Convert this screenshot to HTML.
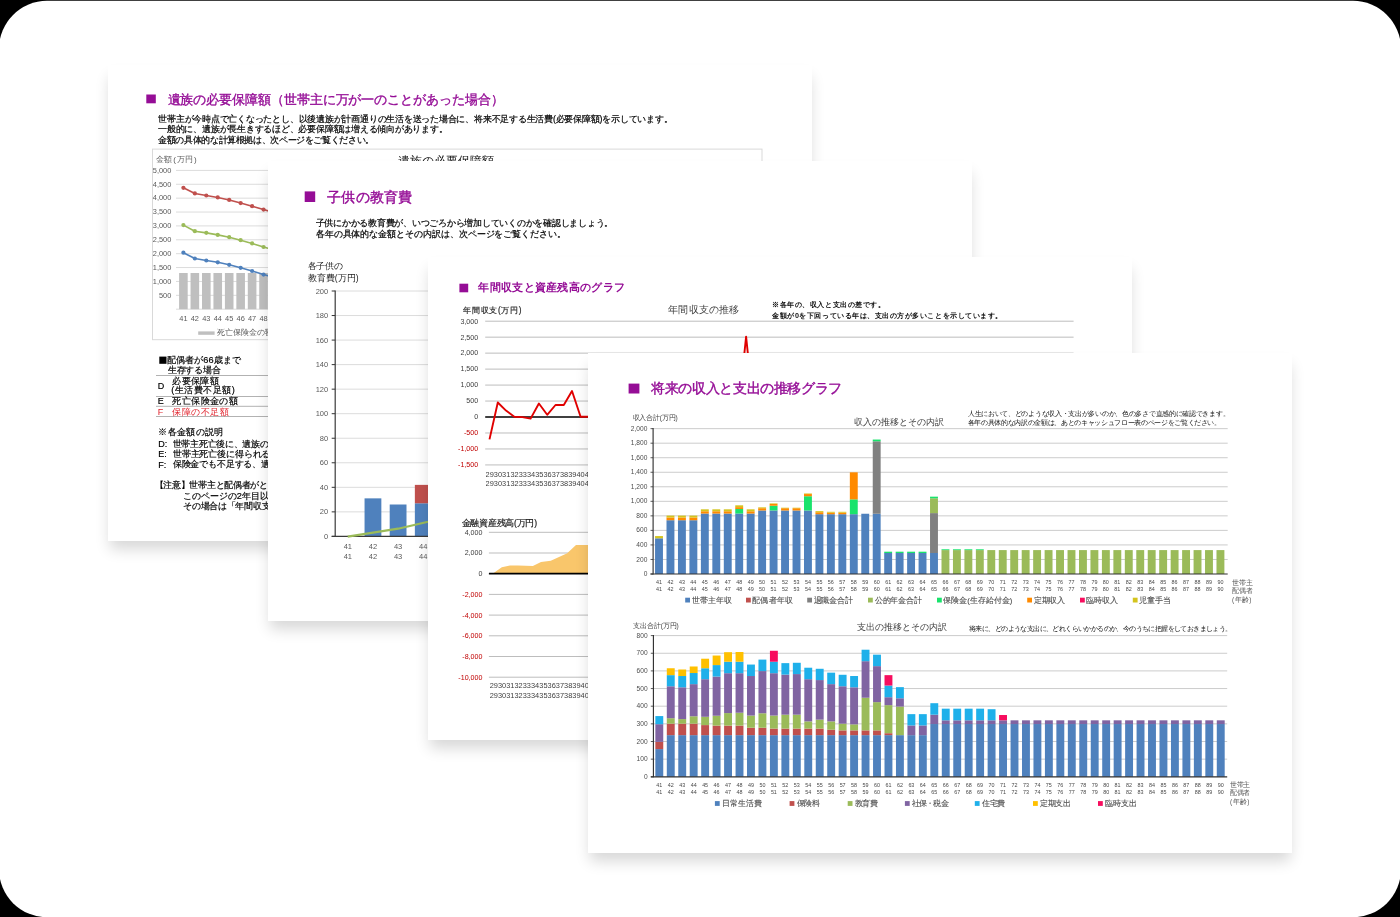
<!DOCTYPE html>
<html lang="ja">
<head>
<meta charset="utf-8">
<title>将来の収入と支出の推移グラフ</title>
<style>
html,body{margin:0;padding:0;background:#000;}
body{width:1400px;height:917px;position:relative;overflow:hidden;font-family:"Liberation Sans",sans-serif;}
.bg{position:absolute;left:0;top:0;display:block;}
.page{position:absolute;background:#fff;overflow:hidden;will-change:transform;}
.page svg{position:absolute;left:0;top:0;display:block;}
.sh{position:absolute;background:#fff;box-shadow:0 10px 14px -2px rgba(0,0,0,.16);}
.t{position:absolute;white-space:nowrap;margin:0;padding:0;}
.nw{overflow:hidden;}
</style>
</head>
<body>
<svg class="bg" width="1400" height="917" viewBox="0 0 1400 917"><rect x="-1" y="0.85" width="1402" height="916.35" rx="48" ry="48" fill="#ffffff"/></svg>
<div class="sh" style="left:108px;top:65px;width:704px;height:476px;z-index:1"></div>
<div class="page" style="left:108px;top:65px;width:704px;height:476px;z-index:1">
<svg width="704" height="476" viewBox="0 0 704 476">
<rect x="38.3" y="29.5" width="9.5" height="8.8" fill="#950d96"/>
<rect x="44.5" y="84.1" width="609.5" height="190.6" fill="#fff" stroke="#d9d9d9" stroke-width="1"/>
<line x1="68" y1="105.4" x2="649" y2="105.4" stroke="#dcdcdc" stroke-width="1"/>
<line x1="68" y1="119.28" x2="649" y2="119.28" stroke="#dcdcdc" stroke-width="1"/>
<line x1="68" y1="133.16" x2="649" y2="133.16" stroke="#dcdcdc" stroke-width="1"/>
<line x1="68" y1="147.04" x2="649" y2="147.04" stroke="#dcdcdc" stroke-width="1"/>
<line x1="68" y1="160.92" x2="649" y2="160.92" stroke="#dcdcdc" stroke-width="1"/>
<line x1="68" y1="174.8" x2="649" y2="174.8" stroke="#dcdcdc" stroke-width="1"/>
<line x1="68" y1="188.68" x2="649" y2="188.68" stroke="#dcdcdc" stroke-width="1"/>
<line x1="68" y1="202.56" x2="649" y2="202.56" stroke="#dcdcdc" stroke-width="1"/>
<line x1="68" y1="216.44" x2="649" y2="216.44" stroke="#dcdcdc" stroke-width="1"/>
<line x1="68" y1="230.32" x2="649" y2="230.32" stroke="#dcdcdc" stroke-width="1"/>
<line x1="68" y1="244.2" x2="649" y2="244.2" stroke="#dcdcdc" stroke-width="1"/>
<rect x="71.1" y="208.0" width="8.6" height="36.2" fill="#bfbfbf"/>
<rect x="82.55" y="208.0" width="8.6" height="36.2" fill="#bfbfbf"/>
<rect x="94.0" y="208.0" width="8.6" height="36.2" fill="#bfbfbf"/>
<rect x="105.45" y="208.0" width="8.6" height="36.2" fill="#bfbfbf"/>
<rect x="116.9" y="208.0" width="8.6" height="36.2" fill="#bfbfbf"/>
<rect x="128.35" y="208.0" width="8.6" height="36.2" fill="#bfbfbf"/>
<rect x="139.8" y="208.0" width="8.6" height="36.2" fill="#bfbfbf"/>
<rect x="151.25" y="208.0" width="8.6" height="36.2" fill="#bfbfbf"/>
<rect x="162.7" y="208.0" width="8.6" height="36.2" fill="#bfbfbf"/>
<rect x="174.15" y="208.0" width="8.6" height="36.2" fill="#bfbfbf"/>
<polyline points="75.4,122.81 86.85,128.44 98.3,130.52 109.75,132.47 121.2,134.96 132.65,138.1 144.1,141.15 155.55,144.6 167.0,147.87 178.45,151.2" fill="none" stroke="#c0504d" stroke-width="1.6" stroke-linejoin="round" />
<circle cx="75.4" cy="122.81" r="2.1" fill="#c0504d"/>
<circle cx="86.85" cy="128.44" r="2.1" fill="#c0504d"/>
<circle cx="98.3" cy="130.52" r="2.1" fill="#c0504d"/>
<circle cx="109.75" cy="132.47" r="2.1" fill="#c0504d"/>
<circle cx="121.2" cy="134.96" r="2.1" fill="#c0504d"/>
<circle cx="132.65" cy="138.1" r="2.1" fill="#c0504d"/>
<circle cx="144.1" cy="141.15" r="2.1" fill="#c0504d"/>
<circle cx="155.55" cy="144.6" r="2.1" fill="#c0504d"/>
<circle cx="167.0" cy="147.87" r="2.1" fill="#c0504d"/>
<circle cx="178.45" cy="151.2" r="2.1" fill="#c0504d"/>
<polyline points="75.4,160.09 86.85,166.19 98.3,167.86 109.75,169.89 121.2,172.19 132.65,175.19 144.1,178.41 155.55,182.02 167.0,185.35 178.45,188.68" fill="none" stroke="#9bbb59" stroke-width="1.6" stroke-linejoin="round" />
<circle cx="75.4" cy="160.09" r="2.1" fill="#9bbb59"/>
<circle cx="86.85" cy="166.19" r="2.1" fill="#9bbb59"/>
<circle cx="98.3" cy="167.86" r="2.1" fill="#9bbb59"/>
<circle cx="109.75" cy="169.89" r="2.1" fill="#9bbb59"/>
<circle cx="121.2" cy="172.19" r="2.1" fill="#9bbb59"/>
<circle cx="132.65" cy="175.19" r="2.1" fill="#9bbb59"/>
<circle cx="144.1" cy="178.41" r="2.1" fill="#9bbb59"/>
<circle cx="155.55" cy="182.02" r="2.1" fill="#9bbb59"/>
<circle cx="167.0" cy="185.35" r="2.1" fill="#9bbb59"/>
<circle cx="178.45" cy="188.68" r="2.1" fill="#9bbb59"/>
<polyline points="75.4,187.71 86.85,193.51 98.3,195.48 109.75,197.29 121.2,199.78 132.65,202.78 144.1,206.0 155.55,209.58 167.0,212.83 178.45,216.16" fill="none" stroke="#4f81bd" stroke-width="1.6" stroke-linejoin="round" />
<circle cx="75.4" cy="187.71" r="2.1" fill="#4f81bd"/>
<circle cx="86.85" cy="193.51" r="2.1" fill="#4f81bd"/>
<circle cx="98.3" cy="195.48" r="2.1" fill="#4f81bd"/>
<circle cx="109.75" cy="197.29" r="2.1" fill="#4f81bd"/>
<circle cx="121.2" cy="199.78" r="2.1" fill="#4f81bd"/>
<circle cx="132.65" cy="202.78" r="2.1" fill="#4f81bd"/>
<circle cx="144.1" cy="206.0" r="2.1" fill="#4f81bd"/>
<circle cx="155.55" cy="209.58" r="2.1" fill="#4f81bd"/>
<circle cx="167.0" cy="212.83" r="2.1" fill="#4f81bd"/>
<circle cx="178.45" cy="216.16" r="2.1" fill="#4f81bd"/>
<rect x="90.2" y="266.4" width="16.4" height="3.4" fill="#bfbfbf"/>
<rect x="51.3" y="291.6" width="7.2" height="7.2" fill="#000"/>
<line x1="48" y1="310.5" x2="592" y2="310.5" stroke="#b2b2b2" stroke-width="1"/>
<line x1="48" y1="331.5" x2="592" y2="331.5" stroke="#b2b2b2" stroke-width="1"/>
<line x1="48" y1="341.3" x2="592" y2="341.3" stroke="#b2b2b2" stroke-width="1"/>
<line x1="48" y1="351.5" x2="592" y2="351.5" stroke="#b2b2b2" stroke-width="1"/>
</svg>
<div class="t" style="top:26.5px;font-size:13px;line-height:15.6px;height:15.6px;color:#950d96;width:336.0px;text-align-last:justify;-webkit-text-stroke:0.35px #950d96;letter-spacing:-0.092px;left:59.5px;">遺族の必要保障額（世帯主に万が一のことがあった場合）</div>
<div class="t" style="top:48.92px;font-size:8.8px;line-height:10.56px;height:10.56px;color:#000;width:514.3px;text-align-last:justify;-webkit-text-stroke:0.2px #000;letter-spacing:-0.233px;left:50.2px;">世帯主が今時点で亡くなったとし、以後遺族が計画通りの生活を送った場合に、将来不足する生活費(必要保障額)を示しています。</div>
<div class="t" style="top:59.22px;font-size:8.8px;line-height:10.56px;height:10.56px;color:#000;width:289.3px;text-align-last:justify;-webkit-text-stroke:0.2px #000;letter-spacing:-0.245px;left:50.2px;">一般的に、遺族が長生きするほど、必要保障額は増える傾向があります。</div>
<div class="t" style="top:69.72px;font-size:8.8px;line-height:10.56px;height:10.56px;color:#000;width:215.6px;text-align-last:justify;-webkit-text-stroke:0.2px #000;letter-spacing:-0.392px;left:50.2px;">金額の具体的な計算根拠は、次ページをご覧ください。</div>
<div class="t" style="top:90.2px;font-size:8px;line-height:9.6px;height:9.6px;color:#595959;width:40.8px;text-align-last:justify;left:47.8px;">金額(万円)</div>
<div class="t" style="top:88.6px;font-size:12px;line-height:14.4px;height:14.4px;color:#111;width:96.3px;text-align-last:justify;letter-spacing:-0.012px;left:289.9px;">遺族の必要保障額</div>
<div class="t" style="top:101.66px;font-size:7.4px;line-height:8.88px;height:8.88px;color:#595959;right:640.7px;">5,000</div>
<div class="t" style="top:115.54px;font-size:7.4px;line-height:8.88px;height:8.88px;color:#595959;right:640.7px;">4,500</div>
<div class="t" style="top:129.42px;font-size:7.4px;line-height:8.88px;height:8.88px;color:#595959;right:640.7px;">4,000</div>
<div class="t" style="top:143.3px;font-size:7.4px;line-height:8.88px;height:8.88px;color:#595959;right:640.7px;">3,500</div>
<div class="t" style="top:157.18px;font-size:7.4px;line-height:8.88px;height:8.88px;color:#595959;right:640.7px;">3,000</div>
<div class="t" style="top:171.06px;font-size:7.4px;line-height:8.88px;height:8.88px;color:#595959;right:640.7px;">2,500</div>
<div class="t" style="top:184.94px;font-size:7.4px;line-height:8.88px;height:8.88px;color:#595959;right:640.7px;">2,000</div>
<div class="t" style="top:198.82px;font-size:7.4px;line-height:8.88px;height:8.88px;color:#595959;right:640.7px;">1,500</div>
<div class="t" style="top:212.7px;font-size:7.4px;line-height:8.88px;height:8.88px;color:#595959;right:640.7px;">1,000</div>
<div class="t" style="top:226.58px;font-size:7.4px;line-height:8.88px;height:8.88px;color:#595959;right:640.7px;">500</div>
<div class="t" style="top:249.56px;font-size:7.4px;line-height:8.88px;height:8.88px;color:#595959;left:75.4px;transform:translateX(-50%);">41</div>
<div class="t" style="top:249.56px;font-size:7.4px;line-height:8.88px;height:8.88px;color:#595959;left:86.85px;transform:translateX(-50%);">42</div>
<div class="t" style="top:249.56px;font-size:7.4px;line-height:8.88px;height:8.88px;color:#595959;left:98.3px;transform:translateX(-50%);">43</div>
<div class="t" style="top:249.56px;font-size:7.4px;line-height:8.88px;height:8.88px;color:#595959;left:109.75px;transform:translateX(-50%);">44</div>
<div class="t" style="top:249.56px;font-size:7.4px;line-height:8.88px;height:8.88px;color:#595959;left:121.2px;transform:translateX(-50%);">45</div>
<div class="t" style="top:249.56px;font-size:7.4px;line-height:8.88px;height:8.88px;color:#595959;left:132.65px;transform:translateX(-50%);">46</div>
<div class="t" style="top:249.56px;font-size:7.4px;line-height:8.88px;height:8.88px;color:#595959;left:144.1px;transform:translateX(-50%);">47</div>
<div class="t" style="top:249.56px;font-size:7.4px;line-height:8.88px;height:8.88px;color:#595959;left:155.55px;transform:translateX(-50%);">48</div>
<div class="t" style="top:249.56px;font-size:7.4px;line-height:8.88px;height:8.88px;color:#595959;left:167.0px;transform:translateX(-50%);">49</div>
<div class="t" style="top:263.4px;font-size:8px;line-height:9.6px;height:9.6px;color:#595959;left:108.6px;">死亡保険金の額</div>
<div class="t" style="top:289.68px;font-size:9.2px;line-height:11.04px;height:11.04px;color:#000;width:73.2px;text-align-last:justify;-webkit-text-stroke:0.18px #000;letter-spacing:-0.048px;left:59.3px;">配偶者が66歳まで</div>
<div class="t" style="top:299.88px;font-size:9.2px;line-height:11.04px;height:11.04px;color:#000;width:53.2px;text-align-last:justify;-webkit-text-stroke:0.18px #000;letter-spacing:-0.2px;left:59.7px;">生存する場合</div>
<div class="t" style="top:316.0px;font-size:9px;line-height:10.8px;height:10.8px;color:#000;-webkit-text-stroke:0.18px #000;left:49.7px;">D</div>
<div class="t" style="top:310.88px;font-size:9.2px;line-height:11.04px;height:11.04px;color:#000;width:46.6px;text-align-last:justify;-webkit-text-stroke:0.18px #000;left:64.3px;">必要保障額</div>
<div class="t" style="top:320.38px;font-size:9.2px;line-height:11.04px;height:11.04px;color:#000;width:63.7px;text-align-last:justify;-webkit-text-stroke:0.18px #000;left:63.2px;">(生活費不足額)</div>
<div class="t" style="top:331.4px;font-size:9px;line-height:10.8px;height:10.8px;color:#000;-webkit-text-stroke:0.18px #000;left:49.7px;">E</div>
<div class="t" style="top:331.22px;font-size:9.3px;line-height:11.16px;height:11.16px;color:#000;width:65.6px;text-align-last:justify;-webkit-text-stroke:0.18px #000;left:64.3px;">死亡保険金の額</div>
<div class="t" style="top:341.9px;font-size:9px;line-height:10.8px;height:10.8px;color:#e0202a;left:49.7px;">F</div>
<div class="t" style="top:341.72px;font-size:9.3px;line-height:11.16px;height:11.16px;color:#e0202a;width:56.7px;text-align-last:justify;left:64.3px;">保障の不足額</div>
<div class="t" style="top:362.38px;font-size:9.2px;line-height:11.04px;height:11.04px;color:#000;width:65.2px;text-align-last:justify;-webkit-text-stroke:0.18px #000;left:50.2px;">※各金額の説明</div>
<div class="t" style="top:373.7px;font-size:9px;line-height:10.8px;height:10.8px;color:#000;-webkit-text-stroke:0.18px #000;left:50.2px;">D:</div>
<div class="t" style="top:373.58px;font-size:9.2px;line-height:11.04px;height:11.04px;color:#000;width:95.5px;text-align-last:justify;-webkit-text-stroke:0.18px #000;letter-spacing:-0.355px;left:64.8px;">世帯主死亡後に、遺族の</div>
<div class="t" style="top:384.0px;font-size:9px;line-height:10.8px;height:10.8px;color:#000;-webkit-text-stroke:0.18px #000;left:50.2px;">E:</div>
<div class="t" style="top:383.88px;font-size:9.2px;line-height:11.04px;height:11.04px;color:#000;width:97.5px;text-align-last:justify;-webkit-text-stroke:0.18px #000;letter-spacing:-0.173px;left:64.8px;">世帯主死亡後に得られる</div>
<div class="t" style="top:394.6px;font-size:9px;line-height:10.8px;height:10.8px;color:#000;-webkit-text-stroke:0.18px #000;left:50.2px;">F:</div>
<div class="t" style="top:394.48px;font-size:9.2px;line-height:11.04px;height:11.04px;color:#000;width:97.0px;text-align-last:justify;-webkit-text-stroke:0.18px #000;letter-spacing:-0.218px;left:64.8px;">保険金でも不足する、遺</div>
<div class="t" style="top:415.48px;font-size:9.2px;line-height:11.04px;height:11.04px;color:#000;width:121.9px;text-align-last:justify;-webkit-text-stroke:0.18px #000;letter-spacing:-0.321px;left:46.6px;">【注意】世帯主と配偶者がとも</div>
<div class="t" style="top:425.78px;font-size:9.2px;line-height:11.04px;height:11.04px;color:#000;width:85.1px;text-align-last:justify;-webkit-text-stroke:0.18px #000;letter-spacing:-0.143px;left:75.3px;">このページの2年目以</div>
<div class="t" style="top:436.38px;font-size:9.2px;line-height:11.04px;height:11.04px;color:#000;width:86.9px;text-align-last:justify;-webkit-text-stroke:0.18px #000;letter-spacing:-0.35px;left:75.3px;">その場合は「年間収支</div>
</div>
<div class="sh" style="left:268px;top:161px;width:704px;height:460px;z-index:2"></div>
<div class="page" style="left:268px;top:161px;width:704px;height:460px;z-index:2">
<svg width="704" height="460" viewBox="0 0 704 460">
<rect x="36.7" y="30.4" width="10.5" height="10.6" fill="#950d96"/>
<line x1="63.7" y1="375.4" x2="67.2" y2="375.4" stroke="#333" stroke-width="1"/>
<line x1="67.2" y1="350.86" x2="672" y2="350.86" stroke="#dcdcdc" stroke-width="1"/>
<line x1="63.7" y1="350.86" x2="67.2" y2="350.86" stroke="#333" stroke-width="1"/>
<line x1="67.2" y1="326.32" x2="672" y2="326.32" stroke="#dcdcdc" stroke-width="1"/>
<line x1="63.7" y1="326.32" x2="67.2" y2="326.32" stroke="#333" stroke-width="1"/>
<line x1="67.2" y1="301.78" x2="672" y2="301.78" stroke="#dcdcdc" stroke-width="1"/>
<line x1="63.7" y1="301.78" x2="67.2" y2="301.78" stroke="#333" stroke-width="1"/>
<line x1="67.2" y1="277.24" x2="672" y2="277.24" stroke="#dcdcdc" stroke-width="1"/>
<line x1="63.7" y1="277.24" x2="67.2" y2="277.24" stroke="#333" stroke-width="1"/>
<line x1="67.2" y1="252.7" x2="672" y2="252.7" stroke="#dcdcdc" stroke-width="1"/>
<line x1="63.7" y1="252.7" x2="67.2" y2="252.7" stroke="#333" stroke-width="1"/>
<line x1="67.2" y1="228.16" x2="672" y2="228.16" stroke="#dcdcdc" stroke-width="1"/>
<line x1="63.7" y1="228.16" x2="67.2" y2="228.16" stroke="#333" stroke-width="1"/>
<line x1="67.2" y1="203.62" x2="672" y2="203.62" stroke="#dcdcdc" stroke-width="1"/>
<line x1="63.7" y1="203.62" x2="67.2" y2="203.62" stroke="#333" stroke-width="1"/>
<line x1="67.2" y1="179.08" x2="672" y2="179.08" stroke="#dcdcdc" stroke-width="1"/>
<line x1="63.7" y1="179.08" x2="67.2" y2="179.08" stroke="#333" stroke-width="1"/>
<line x1="67.2" y1="154.54" x2="672" y2="154.54" stroke="#dcdcdc" stroke-width="1"/>
<line x1="63.7" y1="154.54" x2="67.2" y2="154.54" stroke="#333" stroke-width="1"/>
<line x1="67.2" y1="130.0" x2="672" y2="130.0" stroke="#dcdcdc" stroke-width="1"/>
<line x1="63.7" y1="130.0" x2="67.2" y2="130.0" stroke="#333" stroke-width="1"/>
<rect x="96.55" y="337.36" width="16.8" height="38.04" fill="#4f81bd"/>
<rect x="121.7" y="343.5" width="16.8" height="31.9" fill="#4f81bd"/>
<rect x="146.85" y="342.27" width="16.8" height="33.13" fill="#4f81bd"/>
<rect x="146.85" y="323.87" width="16.8" height="18.4" fill="#c0504d"/>
<rect x="172.0" y="338.59" width="16.8" height="36.81" fill="#4f81bd"/>
<rect x="172.0" y="314.05" width="16.8" height="24.54" fill="#c0504d"/>
<rect x="197.15" y="332.45" width="16.8" height="42.94" fill="#4f81bd"/>
<rect x="197.15" y="295.64" width="16.8" height="36.81" fill="#c0504d"/>
<line x1="67.2" y1="129.5" x2="67.2" y2="376.0" stroke="#3a3a3a" stroke-width="1.2"/>
<line x1="63.7" y1="375.4" x2="672" y2="375.4" stroke="#3a3a3a" stroke-width="1.3"/>
<polyline points="79.7,375.6 105,371.6 130.1,367.7 160,360.8 182,354" fill="none" stroke="#9bbb59" stroke-width="2.2" stroke-linejoin="round" />
</svg>
<div class="t" style="top:27.6px;font-size:14.0px;line-height:16.8px;height:16.8px;color:#950d96;width:85.0px;text-align-last:justify;-webkit-text-stroke:0.4px #950d96;left:59.2px;">子供の教育費</div>
<div class="t" style="top:57.25px;font-size:8.75px;line-height:10.5px;height:10.5px;color:#000;width:297.3px;text-align-last:justify;-webkit-text-stroke:0.2px #000;letter-spacing:-0.268px;left:47.7px;">子供にかかる教育費が、いつごろから増加していくのかを確認しましょう。</div>
<div class="t" style="top:68.16px;font-size:8.9px;line-height:10.68px;height:10.68px;color:#000;width:250.3px;text-align-last:justify;-webkit-text-stroke:0.2px #000;letter-spacing:-0.075px;left:47.7px;">各年の具体的な金額とその内訳は、次ページをご覧ください。</div>
<div class="t" style="top:99.84px;font-size:8.6px;line-height:10.32px;height:10.32px;color:#222;width:34.3px;text-align-last:justify;letter-spacing:-0.525px;left:39.7px;">各子供の</div>
<div class="t" style="top:111.84px;font-size:8.6px;line-height:10.32px;height:10.32px;color:#222;width:50.9px;text-align-last:justify;letter-spacing:-0.033px;left:39.7px;">教育費(万円)</div>
<div class="t" style="top:370.9px;font-size:7.5px;line-height:9.0px;height:9.0px;color:#595959;right:643.8px;">0</div>
<div class="t" style="top:346.36px;font-size:7.5px;line-height:9.0px;height:9.0px;color:#595959;right:643.8px;">20</div>
<div class="t" style="top:321.82px;font-size:7.5px;line-height:9.0px;height:9.0px;color:#595959;right:643.8px;">40</div>
<div class="t" style="top:297.28px;font-size:7.5px;line-height:9.0px;height:9.0px;color:#595959;right:643.8px;">60</div>
<div class="t" style="top:272.74px;font-size:7.5px;line-height:9.0px;height:9.0px;color:#595959;right:643.8px;">80</div>
<div class="t" style="top:248.2px;font-size:7.5px;line-height:9.0px;height:9.0px;color:#595959;right:643.8px;">100</div>
<div class="t" style="top:223.66px;font-size:7.5px;line-height:9.0px;height:9.0px;color:#595959;right:643.8px;">120</div>
<div class="t" style="top:199.12px;font-size:7.5px;line-height:9.0px;height:9.0px;color:#595959;right:643.8px;">140</div>
<div class="t" style="top:174.58px;font-size:7.5px;line-height:9.0px;height:9.0px;color:#595959;right:643.8px;">160</div>
<div class="t" style="top:150.04px;font-size:7.5px;line-height:9.0px;height:9.0px;color:#595959;right:643.8px;">180</div>
<div class="t" style="top:125.5px;font-size:7.5px;line-height:9.0px;height:9.0px;color:#595959;right:643.8px;">200</div>
<div class="t" style="top:381.3px;font-size:7.5px;line-height:9.0px;height:9.0px;color:#595959;left:79.8px;transform:translateX(-50%);">41</div>
<div class="t" style="top:390.9px;font-size:7.5px;line-height:9.0px;height:9.0px;color:#595959;left:79.8px;transform:translateX(-50%);">41</div>
<div class="t" style="top:381.3px;font-size:7.5px;line-height:9.0px;height:9.0px;color:#595959;left:104.95px;transform:translateX(-50%);">42</div>
<div class="t" style="top:390.9px;font-size:7.5px;line-height:9.0px;height:9.0px;color:#595959;left:104.95px;transform:translateX(-50%);">42</div>
<div class="t" style="top:381.3px;font-size:7.5px;line-height:9.0px;height:9.0px;color:#595959;left:130.1px;transform:translateX(-50%);">43</div>
<div class="t" style="top:390.9px;font-size:7.5px;line-height:9.0px;height:9.0px;color:#595959;left:130.1px;transform:translateX(-50%);">43</div>
<div class="t" style="top:381.3px;font-size:7.5px;line-height:9.0px;height:9.0px;color:#595959;left:155.25px;transform:translateX(-50%);">44</div>
<div class="t" style="top:390.9px;font-size:7.5px;line-height:9.0px;height:9.0px;color:#595959;left:155.25px;transform:translateX(-50%);">44</div>
<div class="t" style="top:381.3px;font-size:7.5px;line-height:9.0px;height:9.0px;color:#595959;left:180.4px;transform:translateX(-50%);">45</div>
<div class="t" style="top:390.9px;font-size:7.5px;line-height:9.0px;height:9.0px;color:#595959;left:180.4px;transform:translateX(-50%);">45</div>
</div>
<div class="sh" style="left:428px;top:257px;width:704px;height:483px;z-index:3"></div>
<div class="page" style="left:428px;top:257px;width:704px;height:483px;z-index:3">
<svg width="704" height="483" viewBox="0 0 704 483">
<rect x="31.4" y="26.7" width="8.8" height="8.6" fill="#950d96"/>
<line x1="57.2" y1="64.2" x2="645.6" y2="64.2" stroke="#bdbdbd" stroke-width="1"/>
<line x1="57.2" y1="80.17" x2="645.6" y2="80.17" stroke="#bdbdbd" stroke-width="1"/>
<line x1="57.2" y1="96.14" x2="645.6" y2="96.14" stroke="#bdbdbd" stroke-width="1"/>
<line x1="57.2" y1="112.11" x2="645.6" y2="112.11" stroke="#bdbdbd" stroke-width="1"/>
<line x1="57.2" y1="128.08" x2="645.6" y2="128.08" stroke="#bdbdbd" stroke-width="1"/>
<line x1="57.2" y1="144.05" x2="645.6" y2="144.05" stroke="#bdbdbd" stroke-width="1"/>
<line x1="57.2" y1="175.99" x2="645.6" y2="175.99" stroke="#bdbdbd" stroke-width="1"/>
<line x1="57.2" y1="191.96" x2="645.6" y2="191.96" stroke="#bdbdbd" stroke-width="1"/>
<line x1="57.2" y1="207.93" x2="645.6" y2="207.93" stroke="#bdbdbd" stroke-width="1"/>
<line x1="57.2" y1="160.02" x2="645.6" y2="160.02" stroke="#000" stroke-width="1.7"/>
<polyline points="61.5,182.4 69.8,145.5 78,153.6 86.3,159.8 94.4,160.1 102.6,161.6 110.9,146.5 119.2,157.8 127.5,148 135.8,148 144,134 152.6,159.8 162,159.8 309.8,159.8 318.1,79.6 326.4,159.8 642,159.8" fill="none" stroke="#e00000" stroke-width="1.9" stroke-linejoin="round" />
<line x1="60.9" y1="275.3" x2="645.6" y2="275.3" stroke="#bdbdbd" stroke-width="1"/>
<line x1="60.9" y1="296.0" x2="645.6" y2="296.0" stroke="#bdbdbd" stroke-width="1"/>
<line x1="60.9" y1="337.4" x2="645.6" y2="337.4" stroke="#bdbdbd" stroke-width="1"/>
<line x1="60.9" y1="358.1" x2="645.6" y2="358.1" stroke="#bdbdbd" stroke-width="1"/>
<line x1="60.9" y1="378.8" x2="645.6" y2="378.8" stroke="#bdbdbd" stroke-width="1"/>
<line x1="60.9" y1="399.5" x2="645.6" y2="399.5" stroke="#bdbdbd" stroke-width="1"/>
<line x1="60.9" y1="420.2" x2="645.6" y2="420.2" stroke="#bdbdbd" stroke-width="1"/>
<polygon points="64.6,316.7 73.8,310.3 82,308.4 90,308.4 104.9,309 113,305 122.8,303.8 139.2,296.2 148,288 172,288 172,316.7" fill="#f9c66b"/>
<line x1="60.9" y1="316.7" x2="645.6" y2="316.7" stroke="#000" stroke-width="1.7"/>
</svg>
<div class="t" style="top:24.22px;font-size:11.3px;line-height:13.56px;height:13.56px;color:#950d96;width:146.7px;text-align-last:justify;font-weight:bold;left:50.3px;">年間収支と資産残高のグラフ</div>
<div class="t" style="top:49.28px;font-size:8.2px;line-height:9.84px;height:9.84px;color:#2b2b2b;width:58.4px;text-align-last:justify;-webkit-text-stroke:0.2px #2b2b2b;left:35.2px;">年間収支(万円)</div>
<div class="t" style="top:47.44px;font-size:10.1px;line-height:12.12px;height:12.12px;color:#404040;width:70.6px;text-align-last:justify;left:240.4px;">年間収支の推移</div>
<div class="t" style="top:44.38px;font-size:7.2px;line-height:8.64px;height:8.64px;color:#111;width:112.4px;text-align-last:justify;font-weight:bold;left:344.3px;">※各年の、収入と支出の差です。</div>
<div class="t" style="top:54.68px;font-size:7.2px;line-height:8.64px;height:8.64px;color:#111;width:230.0px;text-align-last:justify;font-weight:bold;left:344.3px;">金額が0を下回っている年は、支出の方が多いことを示しています。</div>
<div class="t" style="top:60.54px;font-size:7.1px;line-height:8.52px;height:8.52px;color:#404040;right:653.8px;">3,000</div>
<div class="t" style="top:76.51px;font-size:7.1px;line-height:8.52px;height:8.52px;color:#404040;right:653.8px;">2,500</div>
<div class="t" style="top:92.48px;font-size:7.1px;line-height:8.52px;height:8.52px;color:#404040;right:653.8px;">2,000</div>
<div class="t" style="top:108.45px;font-size:7.1px;line-height:8.52px;height:8.52px;color:#404040;right:653.8px;">1,500</div>
<div class="t" style="top:124.42px;font-size:7.1px;line-height:8.52px;height:8.52px;color:#404040;right:653.8px;">1,000</div>
<div class="t" style="top:140.39px;font-size:7.1px;line-height:8.52px;height:8.52px;color:#404040;right:653.8px;">500</div>
<div class="t" style="top:156.36px;font-size:7.1px;line-height:8.52px;height:8.52px;color:#404040;right:653.8px;">0</div>
<div class="t" style="top:172.33px;font-size:7.1px;line-height:8.52px;height:8.52px;color:#c00000;right:653.8px;">-500</div>
<div class="t" style="top:188.3px;font-size:7.1px;line-height:8.52px;height:8.52px;color:#c00000;right:653.8px;">-1,000</div>
<div class="t" style="top:204.27px;font-size:7.1px;line-height:8.52px;height:8.52px;color:#c00000;right:653.8px;">-1,500</div>
<div class="t nw" style="top:213.56px;font-size:7.4px;line-height:8.88px;height:8.88px;color:#404040;letter-spacing:0.02px;left:57.6px;">2930313233343536373839404142</div>
<div class="t nw" style="top:223.06px;font-size:7.4px;line-height:8.88px;height:8.88px;color:#404040;letter-spacing:0.02px;left:57.6px;">2930313233343536373839404142</div>
<div class="t" style="top:260.94px;font-size:8.6px;line-height:10.32px;height:10.32px;color:#222;width:75.3px;text-align-last:justify;-webkit-text-stroke:0.2px #222;letter-spacing:-0.283px;left:33.5px;">金融資産残高(万円)</div>
<div class="t" style="top:271.74px;font-size:7.1px;line-height:8.52px;height:8.52px;color:#404040;right:649.6px;">4,000</div>
<div class="t" style="top:292.44px;font-size:7.1px;line-height:8.52px;height:8.52px;color:#404040;right:649.6px;">2,000</div>
<div class="t" style="top:313.14px;font-size:7.1px;line-height:8.52px;height:8.52px;color:#404040;right:649.6px;">0</div>
<div class="t" style="top:333.84px;font-size:7.1px;line-height:8.52px;height:8.52px;color:#c00000;right:649.6px;">-2,000</div>
<div class="t" style="top:354.54px;font-size:7.1px;line-height:8.52px;height:8.52px;color:#c00000;right:649.6px;">-4,000</div>
<div class="t" style="top:375.24px;font-size:7.1px;line-height:8.52px;height:8.52px;color:#c00000;right:649.6px;">-6,000</div>
<div class="t" style="top:395.94px;font-size:7.1px;line-height:8.52px;height:8.52px;color:#c00000;right:649.6px;">-8,000</div>
<div class="t" style="top:416.64px;font-size:7.1px;line-height:8.52px;height:8.52px;color:#c00000;right:649.6px;">-10,000</div>
<div class="t nw" style="top:425.26px;font-size:7.4px;line-height:8.88px;height:8.88px;color:#404040;letter-spacing:0.02px;left:61.7px;">2930313233343536373839404142</div>
<div class="t nw" style="top:434.76px;font-size:7.4px;line-height:8.88px;height:8.88px;color:#404040;letter-spacing:0.02px;left:61.7px;">2930313233343536373839404142</div>
</div>
<div class="sh" style="left:588px;top:352.5px;width:704px;height:500.0px;z-index:4"></div>
<div class="page" style="left:588px;top:352.5px;width:704px;height:500.0px;z-index:4">
<svg width="704" height="500.0" viewBox="0 0 704 500.0">
<rect x="40.6" y="30.6" width="10.8" height="9.9" fill="#950d96"/>
<line x1="62.5" y1="221.0" x2="65.0" y2="221.0" stroke="#333" stroke-width="0.8"/>
<line x1="65.0" y1="206.47" x2="639.7" y2="206.47" stroke="#cccccc" stroke-width="1"/>
<line x1="62.5" y1="206.47" x2="65.0" y2="206.47" stroke="#333" stroke-width="0.8"/>
<line x1="65.0" y1="191.93" x2="639.7" y2="191.93" stroke="#cccccc" stroke-width="1"/>
<line x1="62.5" y1="191.93" x2="65.0" y2="191.93" stroke="#333" stroke-width="0.8"/>
<line x1="65.0" y1="177.39" x2="639.7" y2="177.39" stroke="#cccccc" stroke-width="1"/>
<line x1="62.5" y1="177.39" x2="65.0" y2="177.39" stroke="#333" stroke-width="0.8"/>
<line x1="65.0" y1="162.86" x2="639.7" y2="162.86" stroke="#cccccc" stroke-width="1"/>
<line x1="62.5" y1="162.86" x2="65.0" y2="162.86" stroke="#333" stroke-width="0.8"/>
<line x1="65.0" y1="148.32" x2="639.7" y2="148.32" stroke="#cccccc" stroke-width="1"/>
<line x1="62.5" y1="148.32" x2="65.0" y2="148.32" stroke="#333" stroke-width="0.8"/>
<line x1="65.0" y1="133.79" x2="639.7" y2="133.79" stroke="#cccccc" stroke-width="1"/>
<line x1="62.5" y1="133.79" x2="65.0" y2="133.79" stroke="#333" stroke-width="0.8"/>
<line x1="65.0" y1="119.25" x2="639.7" y2="119.25" stroke="#cccccc" stroke-width="1"/>
<line x1="62.5" y1="119.25" x2="65.0" y2="119.25" stroke="#333" stroke-width="0.8"/>
<line x1="65.0" y1="104.72" x2="639.7" y2="104.72" stroke="#cccccc" stroke-width="1"/>
<line x1="62.5" y1="104.72" x2="65.0" y2="104.72" stroke="#333" stroke-width="0.8"/>
<line x1="65.0" y1="90.19" x2="639.7" y2="90.19" stroke="#cccccc" stroke-width="1"/>
<line x1="62.5" y1="90.19" x2="65.0" y2="90.19" stroke="#333" stroke-width="0.8"/>
<line x1="65.0" y1="75.65" x2="639.7" y2="75.65" stroke="#cccccc" stroke-width="1"/>
<line x1="62.5" y1="75.65" x2="65.0" y2="75.65" stroke="#333" stroke-width="0.8"/>
<rect x="67.05" y="185.32" width="7.9" height="35.68" fill="#4f81bd"/>
<rect x="67.05" y="183.06" width="7.9" height="2.25" fill="#d4c41e"/>
<rect x="78.51" y="167.22" width="7.9" height="53.78" fill="#4f81bd"/>
<rect x="78.51" y="164.53" width="7.9" height="2.69" fill="#ff8a00"/>
<rect x="78.51" y="162.57" width="7.9" height="1.96" fill="#d4c41e"/>
<rect x="89.97" y="167.22" width="7.9" height="53.78" fill="#4f81bd"/>
<rect x="89.97" y="164.53" width="7.9" height="2.69" fill="#ff8a00"/>
<rect x="89.97" y="162.57" width="7.9" height="1.96" fill="#d4c41e"/>
<rect x="101.42" y="167.22" width="7.9" height="53.78" fill="#4f81bd"/>
<rect x="101.42" y="164.53" width="7.9" height="2.69" fill="#ff8a00"/>
<rect x="101.42" y="162.57" width="7.9" height="1.96" fill="#d4c41e"/>
<rect x="112.88" y="160.53" width="7.9" height="60.47" fill="#4f81bd"/>
<rect x="112.88" y="158.28" width="7.9" height="2.25" fill="#ff8a00"/>
<rect x="112.88" y="156.32" width="7.9" height="1.96" fill="#d4c41e"/>
<rect x="124.34" y="160.53" width="7.9" height="60.47" fill="#4f81bd"/>
<rect x="124.34" y="158.28" width="7.9" height="2.25" fill="#ff8a00"/>
<rect x="124.34" y="156.32" width="7.9" height="1.96" fill="#d4c41e"/>
<rect x="135.8" y="160.53" width="7.9" height="60.47" fill="#4f81bd"/>
<rect x="135.8" y="158.28" width="7.9" height="2.25" fill="#ff8a00"/>
<rect x="135.8" y="156.32" width="7.9" height="1.96" fill="#d4c41e"/>
<rect x="147.26" y="160.53" width="7.9" height="60.47" fill="#4f81bd"/>
<rect x="147.26" y="156.03" width="7.9" height="4.51" fill="#19e36c"/>
<rect x="147.26" y="154.14" width="7.9" height="1.89" fill="#ff8a00"/>
<rect x="147.26" y="152.32" width="7.9" height="1.82" fill="#d4c41e"/>
<rect x="158.71" y="160.53" width="7.9" height="60.47" fill="#4f81bd"/>
<rect x="158.71" y="158.28" width="7.9" height="2.25" fill="#ff8a00"/>
<rect x="158.71" y="156.32" width="7.9" height="1.96" fill="#d4c41e"/>
<rect x="170.17" y="157.48" width="7.9" height="63.52" fill="#4f81bd"/>
<rect x="170.17" y="155.23" width="7.9" height="2.25" fill="#ff8a00"/>
<rect x="170.17" y="154.36" width="7.9" height="0.87" fill="#d4c41e"/>
<rect x="181.63" y="157.48" width="7.9" height="63.52" fill="#4f81bd"/>
<rect x="181.63" y="152.76" width="7.9" height="4.72" fill="#19e36c"/>
<rect x="181.63" y="150.87" width="7.9" height="1.89" fill="#ff8a00"/>
<rect x="181.63" y="150.36" width="7.9" height="0.51" fill="#d4c41e"/>
<rect x="193.09" y="157.48" width="7.9" height="63.52" fill="#4f81bd"/>
<rect x="193.09" y="155.23" width="7.9" height="2.25" fill="#ff8a00"/>
<rect x="193.09" y="154.72" width="7.9" height="0.51" fill="#d4c41e"/>
<rect x="204.55" y="157.48" width="7.9" height="63.52" fill="#4f81bd"/>
<rect x="204.55" y="155.23" width="7.9" height="2.25" fill="#ff8a00"/>
<rect x="204.55" y="154.72" width="7.9" height="0.51" fill="#d4c41e"/>
<rect x="216.0" y="157.48" width="7.9" height="63.52" fill="#4f81bd"/>
<rect x="216.0" y="143.24" width="7.9" height="14.24" fill="#19e36c"/>
<rect x="216.0" y="141.06" width="7.9" height="2.18" fill="#ff8a00"/>
<rect x="216.0" y="140.48" width="7.9" height="0.58" fill="#d4c41e"/>
<rect x="227.46" y="161.19" width="7.9" height="59.81" fill="#4f81bd"/>
<rect x="227.46" y="159.23" width="7.9" height="1.96" fill="#ff8a00"/>
<rect x="227.46" y="158.14" width="7.9" height="1.09" fill="#d4c41e"/>
<rect x="238.92" y="161.19" width="7.9" height="59.81" fill="#4f81bd"/>
<rect x="238.92" y="159.66" width="7.9" height="1.53" fill="#ff8a00"/>
<rect x="238.92" y="158.79" width="7.9" height="0.87" fill="#d4c41e"/>
<rect x="250.38" y="161.19" width="7.9" height="59.81" fill="#4f81bd"/>
<rect x="250.38" y="159.66" width="7.9" height="1.53" fill="#ff8a00"/>
<rect x="250.38" y="158.79" width="7.9" height="0.87" fill="#d4c41e"/>
<rect x="261.84" y="161.19" width="7.9" height="59.81" fill="#4f81bd"/>
<rect x="261.84" y="146.36" width="7.9" height="14.83" fill="#19e36c"/>
<rect x="261.84" y="119.33" width="7.9" height="27.04" fill="#ff8a00"/>
<rect x="273.29" y="160.75" width="7.9" height="60.25" fill="#4f81bd"/>
<rect x="284.75" y="160.75" width="7.9" height="60.25" fill="#4f81bd"/>
<rect x="284.75" y="88.3" width="7.9" height="72.46" fill="#808080"/>
<rect x="284.75" y="86.55" width="7.9" height="1.74" fill="#19e36c"/>
<rect x="296.21" y="200.0" width="7.9" height="21.0" fill="#4f81bd"/>
<rect x="296.21" y="198.69" width="7.9" height="1.31" fill="#19e36c"/>
<rect x="307.67" y="200.0" width="7.9" height="21.0" fill="#4f81bd"/>
<rect x="307.67" y="198.69" width="7.9" height="1.31" fill="#19e36c"/>
<rect x="319.13" y="200.0" width="7.9" height="21.0" fill="#4f81bd"/>
<rect x="319.13" y="198.69" width="7.9" height="1.31" fill="#19e36c"/>
<rect x="330.58" y="200.0" width="7.9" height="21.0" fill="#4f81bd"/>
<rect x="330.58" y="198.69" width="7.9" height="1.31" fill="#19e36c"/>
<rect x="342.04" y="200.0" width="7.9" height="21.0" fill="#4f81bd"/>
<rect x="342.04" y="160.1" width="7.9" height="39.9" fill="#808080"/>
<rect x="342.04" y="145.27" width="7.9" height="14.83" fill="#9bbb59"/>
<rect x="342.04" y="143.67" width="7.9" height="1.6" fill="#19e36c"/>
<rect x="353.5" y="197.09" width="7.9" height="23.91" fill="#9bbb59"/>
<rect x="353.5" y="196.29" width="7.9" height="0.8" fill="#19e36c"/>
<rect x="364.96" y="197.09" width="7.9" height="23.91" fill="#9bbb59"/>
<rect x="364.96" y="196.29" width="7.9" height="0.8" fill="#19e36c"/>
<rect x="376.42" y="197.09" width="7.9" height="23.91" fill="#9bbb59"/>
<rect x="376.42" y="196.29" width="7.9" height="0.8" fill="#19e36c"/>
<rect x="387.87" y="197.09" width="7.9" height="23.91" fill="#9bbb59"/>
<rect x="387.87" y="196.29" width="7.9" height="0.8" fill="#19e36c"/>
<rect x="399.33" y="197.09" width="7.9" height="23.91" fill="#9bbb59"/>
<rect x="410.79" y="197.09" width="7.9" height="23.91" fill="#9bbb59"/>
<rect x="422.25" y="197.09" width="7.9" height="23.91" fill="#9bbb59"/>
<rect x="433.71" y="197.09" width="7.9" height="23.91" fill="#9bbb59"/>
<rect x="445.16" y="197.09" width="7.9" height="23.91" fill="#9bbb59"/>
<rect x="456.62" y="197.09" width="7.9" height="23.91" fill="#9bbb59"/>
<rect x="468.08" y="197.09" width="7.9" height="23.91" fill="#9bbb59"/>
<rect x="479.54" y="197.09" width="7.9" height="23.91" fill="#9bbb59"/>
<rect x="491.0" y="197.09" width="7.9" height="23.91" fill="#9bbb59"/>
<rect x="502.45" y="197.09" width="7.9" height="23.91" fill="#9bbb59"/>
<rect x="513.91" y="197.09" width="7.9" height="23.91" fill="#9bbb59"/>
<rect x="525.37" y="197.09" width="7.9" height="23.91" fill="#9bbb59"/>
<rect x="536.83" y="197.09" width="7.9" height="23.91" fill="#9bbb59"/>
<rect x="548.29" y="197.09" width="7.9" height="23.91" fill="#9bbb59"/>
<rect x="559.74" y="197.09" width="7.9" height="23.91" fill="#9bbb59"/>
<rect x="571.2" y="197.09" width="7.9" height="23.91" fill="#9bbb59"/>
<rect x="582.66" y="197.09" width="7.9" height="23.91" fill="#9bbb59"/>
<rect x="594.12" y="197.09" width="7.9" height="23.91" fill="#9bbb59"/>
<rect x="605.58" y="197.09" width="7.9" height="23.91" fill="#9bbb59"/>
<rect x="617.03" y="197.09" width="7.9" height="23.91" fill="#9bbb59"/>
<rect x="628.49" y="197.09" width="7.9" height="23.91" fill="#9bbb59"/>
<line x1="65.1" y1="75.1" x2="65.1" y2="221.5" stroke="#2a2a2a" stroke-width="1.1"/>
<line x1="62.5" y1="221.0" x2="639.7" y2="221.0" stroke="#303030" stroke-width="1.2"/>
<rect x="97.2" y="244.7" width="4.8" height="4.8" fill="#4f81bd"/>
<rect x="158.0" y="244.7" width="4.8" height="4.8" fill="#c0504d"/>
<rect x="219.2" y="244.7" width="4.8" height="4.8" fill="#808080"/>
<rect x="280.0" y="244.7" width="4.8" height="4.8" fill="#9bbb59"/>
<rect x="349.0" y="244.7" width="4.8" height="4.8" fill="#19e36c"/>
<rect x="439.2" y="244.7" width="4.8" height="4.8" fill="#ff8a00"/>
<rect x="492.0" y="244.7" width="4.8" height="4.8" fill="#f70d5e"/>
<rect x="544.8" y="244.7" width="4.8" height="4.8" fill="#d4c41e"/>
<line x1="62.8" y1="423.8" x2="65.3" y2="423.8" stroke="#333" stroke-width="0.8"/>
<line x1="65.3" y1="406.15" x2="639.2" y2="406.15" stroke="#cccccc" stroke-width="1"/>
<line x1="62.8" y1="406.15" x2="65.3" y2="406.15" stroke="#333" stroke-width="0.8"/>
<line x1="65.3" y1="388.5" x2="639.2" y2="388.5" stroke="#cccccc" stroke-width="1"/>
<line x1="62.8" y1="388.5" x2="65.3" y2="388.5" stroke="#333" stroke-width="0.8"/>
<line x1="65.3" y1="370.85" x2="639.2" y2="370.85" stroke="#cccccc" stroke-width="1"/>
<line x1="62.8" y1="370.85" x2="65.3" y2="370.85" stroke="#333" stroke-width="0.8"/>
<line x1="65.3" y1="353.2" x2="639.2" y2="353.2" stroke="#cccccc" stroke-width="1"/>
<line x1="62.8" y1="353.2" x2="65.3" y2="353.2" stroke="#333" stroke-width="0.8"/>
<line x1="65.3" y1="335.55" x2="639.2" y2="335.55" stroke="#cccccc" stroke-width="1"/>
<line x1="62.8" y1="335.55" x2="65.3" y2="335.55" stroke="#333" stroke-width="0.8"/>
<line x1="65.3" y1="317.9" x2="639.2" y2="317.9" stroke="#cccccc" stroke-width="1"/>
<line x1="62.8" y1="317.9" x2="65.3" y2="317.9" stroke="#333" stroke-width="0.8"/>
<line x1="65.3" y1="300.25" x2="639.2" y2="300.25" stroke="#cccccc" stroke-width="1"/>
<line x1="62.8" y1="300.25" x2="65.3" y2="300.25" stroke="#333" stroke-width="0.8"/>
<line x1="65.3" y1="282.6" x2="639.2" y2="282.6" stroke="#cccccc" stroke-width="1"/>
<line x1="62.8" y1="282.6" x2="65.3" y2="282.6" stroke="#333" stroke-width="0.8"/>
<rect x="67.35" y="396.09" width="7.9" height="27.71" fill="#4f81bd"/>
<rect x="67.35" y="388.85" width="7.9" height="7.24" fill="#c0504d"/>
<rect x="67.35" y="371.2" width="7.9" height="17.65" fill="#8064a2"/>
<rect x="67.35" y="363.08" width="7.9" height="8.12" fill="#1fb0ea"/>
<rect x="78.81" y="382.15" width="7.9" height="41.65" fill="#4f81bd"/>
<rect x="78.81" y="370.67" width="7.9" height="11.47" fill="#c0504d"/>
<rect x="78.81" y="365.2" width="7.9" height="5.47" fill="#9bbb59"/>
<rect x="78.81" y="333.26" width="7.9" height="31.95" fill="#8064a2"/>
<rect x="78.81" y="322.14" width="7.9" height="11.12" fill="#1fb0ea"/>
<rect x="78.81" y="315.25" width="7.9" height="6.88" fill="#ffc000"/>
<rect x="90.27" y="382.15" width="7.9" height="41.65" fill="#4f81bd"/>
<rect x="90.27" y="370.67" width="7.9" height="11.47" fill="#c0504d"/>
<rect x="90.27" y="366.08" width="7.9" height="4.59" fill="#9bbb59"/>
<rect x="90.27" y="334.31" width="7.9" height="31.77" fill="#8064a2"/>
<rect x="90.27" y="323.02" width="7.9" height="11.3" fill="#1fb0ea"/>
<rect x="90.27" y="316.49" width="7.9" height="6.53" fill="#ffc000"/>
<rect x="101.72" y="382.15" width="7.9" height="41.65" fill="#4f81bd"/>
<rect x="101.72" y="370.67" width="7.9" height="11.47" fill="#c0504d"/>
<rect x="101.72" y="363.26" width="7.9" height="7.41" fill="#9bbb59"/>
<rect x="101.72" y="331.14" width="7.9" height="32.12" fill="#8064a2"/>
<rect x="101.72" y="320.02" width="7.9" height="11.12" fill="#1fb0ea"/>
<rect x="101.72" y="313.49" width="7.9" height="6.53" fill="#ffc000"/>
<rect x="113.18" y="382.15" width="7.9" height="41.65" fill="#4f81bd"/>
<rect x="113.18" y="372.09" width="7.9" height="10.06" fill="#c0504d"/>
<rect x="113.18" y="363.79" width="7.9" height="8.3" fill="#9bbb59"/>
<rect x="113.18" y="326.2" width="7.9" height="37.59" fill="#8064a2"/>
<rect x="113.18" y="315.25" width="7.9" height="10.94" fill="#1fb0ea"/>
<rect x="113.18" y="305.72" width="7.9" height="9.53" fill="#ffc000"/>
<rect x="124.64" y="382.15" width="7.9" height="41.65" fill="#4f81bd"/>
<rect x="124.64" y="372.62" width="7.9" height="9.53" fill="#c0504d"/>
<rect x="124.64" y="362.73" width="7.9" height="9.88" fill="#9bbb59"/>
<rect x="124.64" y="323.55" width="7.9" height="39.18" fill="#8064a2"/>
<rect x="124.64" y="312.08" width="7.9" height="11.47" fill="#1fb0ea"/>
<rect x="124.64" y="302.54" width="7.9" height="9.53" fill="#ffc000"/>
<rect x="136.1" y="382.15" width="7.9" height="41.65" fill="#4f81bd"/>
<rect x="136.1" y="372.62" width="7.9" height="9.53" fill="#c0504d"/>
<rect x="136.1" y="360.08" width="7.9" height="12.53" fill="#9bbb59"/>
<rect x="136.1" y="320.19" width="7.9" height="39.89" fill="#8064a2"/>
<rect x="136.1" y="308.72" width="7.9" height="11.47" fill="#1fb0ea"/>
<rect x="136.1" y="299.19" width="7.9" height="9.53" fill="#ffc000"/>
<rect x="147.56" y="382.15" width="7.9" height="41.65" fill="#4f81bd"/>
<rect x="147.56" y="372.62" width="7.9" height="9.53" fill="#c0504d"/>
<rect x="147.56" y="359.73" width="7.9" height="12.88" fill="#9bbb59"/>
<rect x="147.56" y="320.19" width="7.9" height="39.54" fill="#8064a2"/>
<rect x="147.56" y="308.72" width="7.9" height="11.47" fill="#1fb0ea"/>
<rect x="147.56" y="299.01" width="7.9" height="9.71" fill="#ffc000"/>
<rect x="159.01" y="382.15" width="7.9" height="41.65" fill="#4f81bd"/>
<rect x="159.01" y="374.73" width="7.9" height="7.41" fill="#c0504d"/>
<rect x="159.01" y="362.55" width="7.9" height="12.18" fill="#9bbb59"/>
<rect x="159.01" y="323.02" width="7.9" height="39.54" fill="#8064a2"/>
<rect x="159.01" y="311.55" width="7.9" height="11.47" fill="#1fb0ea"/>
<rect x="170.47" y="382.15" width="7.9" height="41.65" fill="#4f81bd"/>
<rect x="170.47" y="374.73" width="7.9" height="7.41" fill="#c0504d"/>
<rect x="170.47" y="360.26" width="7.9" height="14.47" fill="#9bbb59"/>
<rect x="170.47" y="318.08" width="7.9" height="42.18" fill="#8064a2"/>
<rect x="170.47" y="306.6" width="7.9" height="11.47" fill="#1fb0ea"/>
<rect x="181.93" y="382.15" width="7.9" height="41.65" fill="#4f81bd"/>
<rect x="181.93" y="375.62" width="7.9" height="6.53" fill="#c0504d"/>
<rect x="181.93" y="362.55" width="7.9" height="13.06" fill="#9bbb59"/>
<rect x="181.93" y="320.19" width="7.9" height="42.36" fill="#8064a2"/>
<rect x="181.93" y="308.72" width="7.9" height="11.47" fill="#1fb0ea"/>
<rect x="181.93" y="297.78" width="7.9" height="10.94" fill="#f70d5e"/>
<rect x="193.39" y="382.15" width="7.9" height="41.65" fill="#4f81bd"/>
<rect x="193.39" y="375.62" width="7.9" height="6.53" fill="#c0504d"/>
<rect x="193.39" y="361.67" width="7.9" height="13.94" fill="#9bbb59"/>
<rect x="193.39" y="321.61" width="7.9" height="40.07" fill="#8064a2"/>
<rect x="193.39" y="310.13" width="7.9" height="11.47" fill="#1fb0ea"/>
<rect x="204.85" y="382.15" width="7.9" height="41.65" fill="#4f81bd"/>
<rect x="204.85" y="375.62" width="7.9" height="6.53" fill="#c0504d"/>
<rect x="204.85" y="361.67" width="7.9" height="13.94" fill="#9bbb59"/>
<rect x="204.85" y="321.08" width="7.9" height="40.59" fill="#8064a2"/>
<rect x="204.85" y="309.78" width="7.9" height="11.3" fill="#1fb0ea"/>
<rect x="216.3" y="382.15" width="7.9" height="41.65" fill="#4f81bd"/>
<rect x="216.3" y="375.62" width="7.9" height="6.53" fill="#c0504d"/>
<rect x="216.3" y="368.38" width="7.9" height="7.24" fill="#9bbb59"/>
<rect x="216.3" y="326.2" width="7.9" height="42.18" fill="#8064a2"/>
<rect x="216.3" y="314.72" width="7.9" height="11.47" fill="#1fb0ea"/>
<rect x="227.76" y="382.15" width="7.9" height="41.65" fill="#4f81bd"/>
<rect x="227.76" y="375.62" width="7.9" height="6.53" fill="#c0504d"/>
<rect x="227.76" y="366.61" width="7.9" height="9.0" fill="#9bbb59"/>
<rect x="227.76" y="327.08" width="7.9" height="39.54" fill="#8064a2"/>
<rect x="227.76" y="315.78" width="7.9" height="11.3" fill="#1fb0ea"/>
<rect x="239.22" y="382.15" width="7.9" height="41.65" fill="#4f81bd"/>
<rect x="239.22" y="376.67" width="7.9" height="5.47" fill="#c0504d"/>
<rect x="239.22" y="368.38" width="7.9" height="8.3" fill="#9bbb59"/>
<rect x="239.22" y="331.14" width="7.9" height="37.24" fill="#8064a2"/>
<rect x="239.22" y="319.66" width="7.9" height="11.47" fill="#1fb0ea"/>
<rect x="250.68" y="382.15" width="7.9" height="41.65" fill="#4f81bd"/>
<rect x="250.68" y="377.38" width="7.9" height="4.77" fill="#c0504d"/>
<rect x="250.68" y="370.67" width="7.9" height="6.71" fill="#9bbb59"/>
<rect x="250.68" y="333.26" width="7.9" height="37.42" fill="#8064a2"/>
<rect x="250.68" y="321.78" width="7.9" height="11.47" fill="#1fb0ea"/>
<rect x="262.14" y="382.15" width="7.9" height="41.65" fill="#4f81bd"/>
<rect x="262.14" y="377.38" width="7.9" height="4.77" fill="#c0504d"/>
<rect x="262.14" y="371.38" width="7.9" height="6.0" fill="#9bbb59"/>
<rect x="262.14" y="334.31" width="7.9" height="37.07" fill="#8064a2"/>
<rect x="262.14" y="323.02" width="7.9" height="11.3" fill="#1fb0ea"/>
<rect x="273.59" y="382.15" width="7.9" height="41.65" fill="#4f81bd"/>
<rect x="273.59" y="377.38" width="7.9" height="4.77" fill="#c0504d"/>
<rect x="273.59" y="344.73" width="7.9" height="32.65" fill="#9bbb59"/>
<rect x="273.59" y="308.19" width="7.9" height="36.54" fill="#8064a2"/>
<rect x="273.59" y="296.72" width="7.9" height="11.47" fill="#1fb0ea"/>
<rect x="285.05" y="382.15" width="7.9" height="41.65" fill="#4f81bd"/>
<rect x="285.05" y="377.38" width="7.9" height="4.77" fill="#c0504d"/>
<rect x="285.05" y="349.14" width="7.9" height="28.24" fill="#9bbb59"/>
<rect x="285.05" y="313.13" width="7.9" height="36.01" fill="#8064a2"/>
<rect x="285.05" y="301.66" width="7.9" height="11.47" fill="#1fb0ea"/>
<rect x="296.51" y="382.15" width="7.9" height="41.65" fill="#4f81bd"/>
<rect x="296.51" y="380.2" width="7.9" height="1.94" fill="#c0504d"/>
<rect x="296.51" y="352.14" width="7.9" height="28.06" fill="#9bbb59"/>
<rect x="296.51" y="344.2" width="7.9" height="7.94" fill="#8064a2"/>
<rect x="296.51" y="332.55" width="7.9" height="11.65" fill="#1fb0ea"/>
<rect x="296.51" y="322.14" width="7.9" height="10.41" fill="#f70d5e"/>
<rect x="307.97" y="382.15" width="7.9" height="41.65" fill="#4f81bd"/>
<rect x="307.97" y="353.55" width="7.9" height="28.59" fill="#9bbb59"/>
<rect x="307.97" y="345.26" width="7.9" height="8.3" fill="#8064a2"/>
<rect x="307.97" y="334.14" width="7.9" height="11.12" fill="#1fb0ea"/>
<rect x="319.43" y="382.15" width="7.9" height="41.65" fill="#4f81bd"/>
<rect x="319.43" y="372.44" width="7.9" height="9.71" fill="#8064a2"/>
<rect x="319.43" y="361.14" width="7.9" height="11.3" fill="#1fb0ea"/>
<rect x="330.88" y="382.15" width="7.9" height="41.65" fill="#4f81bd"/>
<rect x="330.88" y="372.44" width="7.9" height="9.71" fill="#8064a2"/>
<rect x="330.88" y="361.14" width="7.9" height="11.3" fill="#1fb0ea"/>
<rect x="342.34" y="371.03" width="7.9" height="52.77" fill="#4f81bd"/>
<rect x="342.34" y="361.67" width="7.9" height="9.35" fill="#8064a2"/>
<rect x="342.34" y="350.2" width="7.9" height="11.47" fill="#1fb0ea"/>
<rect x="353.8" y="371.03" width="7.9" height="52.77" fill="#4f81bd"/>
<rect x="353.8" y="367.32" width="7.9" height="3.71" fill="#8064a2"/>
<rect x="353.8" y="355.67" width="7.9" height="11.65" fill="#1fb0ea"/>
<rect x="365.26" y="371.03" width="7.9" height="52.77" fill="#4f81bd"/>
<rect x="365.26" y="367.32" width="7.9" height="3.71" fill="#8064a2"/>
<rect x="365.26" y="355.67" width="7.9" height="11.65" fill="#1fb0ea"/>
<rect x="376.72" y="371.03" width="7.9" height="52.77" fill="#4f81bd"/>
<rect x="376.72" y="367.32" width="7.9" height="3.71" fill="#8064a2"/>
<rect x="376.72" y="355.67" width="7.9" height="11.65" fill="#1fb0ea"/>
<rect x="388.17" y="371.03" width="7.9" height="52.77" fill="#4f81bd"/>
<rect x="388.17" y="367.32" width="7.9" height="3.71" fill="#8064a2"/>
<rect x="388.17" y="355.67" width="7.9" height="11.65" fill="#1fb0ea"/>
<rect x="399.63" y="371.03" width="7.9" height="52.77" fill="#4f81bd"/>
<rect x="399.63" y="367.32" width="7.9" height="3.71" fill="#8064a2"/>
<rect x="399.63" y="356.2" width="7.9" height="11.12" fill="#1fb0ea"/>
<rect x="411.09" y="371.03" width="7.9" height="52.77" fill="#4f81bd"/>
<rect x="411.09" y="367.32" width="7.9" height="3.71" fill="#8064a2"/>
<rect x="411.09" y="362.02" width="7.9" height="5.29" fill="#f70d5e"/>
<rect x="422.55" y="371.03" width="7.9" height="52.77" fill="#4f81bd"/>
<rect x="422.55" y="367.32" width="7.9" height="3.71" fill="#8064a2"/>
<rect x="434.01" y="371.03" width="7.9" height="52.77" fill="#4f81bd"/>
<rect x="434.01" y="367.32" width="7.9" height="3.71" fill="#8064a2"/>
<rect x="445.46" y="371.03" width="7.9" height="52.77" fill="#4f81bd"/>
<rect x="445.46" y="367.32" width="7.9" height="3.71" fill="#8064a2"/>
<rect x="456.92" y="371.03" width="7.9" height="52.77" fill="#4f81bd"/>
<rect x="456.92" y="367.32" width="7.9" height="3.71" fill="#8064a2"/>
<rect x="468.38" y="371.03" width="7.9" height="52.77" fill="#4f81bd"/>
<rect x="468.38" y="367.32" width="7.9" height="3.71" fill="#8064a2"/>
<rect x="479.84" y="371.03" width="7.9" height="52.77" fill="#4f81bd"/>
<rect x="479.84" y="367.32" width="7.9" height="3.71" fill="#8064a2"/>
<rect x="491.3" y="371.03" width="7.9" height="52.77" fill="#4f81bd"/>
<rect x="491.3" y="367.32" width="7.9" height="3.71" fill="#8064a2"/>
<rect x="502.75" y="371.03" width="7.9" height="52.77" fill="#4f81bd"/>
<rect x="502.75" y="367.32" width="7.9" height="3.71" fill="#8064a2"/>
<rect x="514.21" y="371.03" width="7.9" height="52.77" fill="#4f81bd"/>
<rect x="514.21" y="367.32" width="7.9" height="3.71" fill="#8064a2"/>
<rect x="525.67" y="371.03" width="7.9" height="52.77" fill="#4f81bd"/>
<rect x="525.67" y="367.32" width="7.9" height="3.71" fill="#8064a2"/>
<rect x="537.13" y="371.03" width="7.9" height="52.77" fill="#4f81bd"/>
<rect x="537.13" y="367.32" width="7.9" height="3.71" fill="#8064a2"/>
<rect x="548.59" y="371.03" width="7.9" height="52.77" fill="#4f81bd"/>
<rect x="548.59" y="367.32" width="7.9" height="3.71" fill="#8064a2"/>
<rect x="560.04" y="371.03" width="7.9" height="52.77" fill="#4f81bd"/>
<rect x="560.04" y="367.32" width="7.9" height="3.71" fill="#8064a2"/>
<rect x="571.5" y="371.03" width="7.9" height="52.77" fill="#4f81bd"/>
<rect x="571.5" y="367.32" width="7.9" height="3.71" fill="#8064a2"/>
<rect x="582.96" y="371.03" width="7.9" height="52.77" fill="#4f81bd"/>
<rect x="582.96" y="367.32" width="7.9" height="3.71" fill="#8064a2"/>
<rect x="594.42" y="371.03" width="7.9" height="52.77" fill="#4f81bd"/>
<rect x="594.42" y="367.32" width="7.9" height="3.71" fill="#8064a2"/>
<rect x="605.88" y="371.03" width="7.9" height="52.77" fill="#4f81bd"/>
<rect x="605.88" y="367.32" width="7.9" height="3.71" fill="#8064a2"/>
<rect x="617.33" y="371.03" width="7.9" height="52.77" fill="#4f81bd"/>
<rect x="617.33" y="367.32" width="7.9" height="3.71" fill="#8064a2"/>
<rect x="628.79" y="371.03" width="7.9" height="52.77" fill="#4f81bd"/>
<rect x="628.79" y="367.32" width="7.9" height="3.71" fill="#8064a2"/>
<line x1="65.4" y1="282.1" x2="65.4" y2="424.3" stroke="#2a2a2a" stroke-width="1.1"/>
<line x1="62.8" y1="423.8" x2="639.2" y2="423.8" stroke="#303030" stroke-width="1.2"/>
<rect x="126.9" y="448.1" width="4.8" height="4.8" fill="#4f81bd"/>
<rect x="201.6" y="448.1" width="4.8" height="4.8" fill="#c0504d"/>
<rect x="259.7" y="448.1" width="4.8" height="4.8" fill="#9bbb59"/>
<rect x="316.9" y="448.1" width="4.8" height="4.8" fill="#8064a2"/>
<rect x="386.8" y="448.1" width="4.8" height="4.8" fill="#1fb0ea"/>
<rect x="445.0" y="448.1" width="4.8" height="4.8" fill="#ffc000"/>
<rect x="510.0" y="448.1" width="4.8" height="4.8" fill="#f70d5e"/>
</svg>
<div class="t" style="top:27.64px;font-size:13.6px;line-height:16.32px;height:16.32px;color:#950d96;width:190.9px;text-align-last:justify;-webkit-text-stroke:0.4px #950d96;letter-spacing:-0.393px;left:63.1px;">将来の収入と支出の推移グラフ</div>
<div class="t" style="top:60.84px;font-size:6.6px;line-height:7.92px;height:7.92px;color:#404040;width:45.0px;text-align-last:justify;letter-spacing:-0.226px;left:44.5px;">収入合計(万円)</div>
<div class="t" style="top:62.66px;font-size:9.4px;line-height:11.28px;height:11.28px;color:#404040;width:90.8px;text-align-last:justify;left:265.6px;">収入の推移とその内訳</div>
<div class="t" style="top:56.96px;font-size:6.9px;line-height:8.28px;height:8.28px;color:#111;width:261.5px;text-align-last:justify;letter-spacing:-0.305px;left:379.8px;">人生において、どのような収入・支出が多いのか、色の多さで直感的に確認できます。</div>
<div class="t" style="top:66.09px;font-size:6.85px;line-height:8.22px;height:8.22px;color:#111;width:253.0px;text-align-last:justify;letter-spacing:-0.353px;left:379.8px;">各年の具体的な内訳の金額は、あとのキャッシュフロー表のページをご覧ください。</div>
<div class="t" style="top:217.04px;font-size:6.6px;line-height:7.92px;height:7.92px;color:#4d4d4d;right:644.7px;">0</div>
<div class="t" style="top:202.5px;font-size:6.6px;line-height:7.92px;height:7.92px;color:#4d4d4d;right:644.7px;">200</div>
<div class="t" style="top:187.97px;font-size:6.6px;line-height:7.92px;height:7.92px;color:#4d4d4d;right:644.7px;">400</div>
<div class="t" style="top:173.43px;font-size:6.6px;line-height:7.92px;height:7.92px;color:#4d4d4d;right:644.7px;">600</div>
<div class="t" style="top:158.9px;font-size:6.6px;line-height:7.92px;height:7.92px;color:#4d4d4d;right:644.7px;">800</div>
<div class="t" style="top:144.37px;font-size:6.6px;line-height:7.92px;height:7.92px;color:#4d4d4d;right:644.7px;">1,000</div>
<div class="t" style="top:129.83px;font-size:6.6px;line-height:7.92px;height:7.92px;color:#4d4d4d;right:644.7px;">1,200</div>
<div class="t" style="top:115.3px;font-size:6.6px;line-height:7.92px;height:7.92px;color:#4d4d4d;right:644.7px;">1,400</div>
<div class="t" style="top:100.76px;font-size:6.6px;line-height:7.92px;height:7.92px;color:#4d4d4d;right:644.7px;">1,600</div>
<div class="t" style="top:86.23px;font-size:6.6px;line-height:7.92px;height:7.92px;color:#4d4d4d;right:644.7px;">1,800</div>
<div class="t" style="top:71.69px;font-size:6.6px;line-height:7.92px;height:7.92px;color:#4d4d4d;right:644.7px;">2,000</div>
<div class="t" style="top:226.16px;font-size:5.4px;line-height:6.48px;height:6.48px;color:#484848;left:71.0px;transform:translateX(-50%);">41</div>
<div class="t" style="top:233.36px;font-size:5.4px;line-height:6.48px;height:6.48px;color:#484848;left:71.0px;transform:translateX(-50%);">41</div>
<div class="t" style="top:226.16px;font-size:5.4px;line-height:6.48px;height:6.48px;color:#484848;left:82.46px;transform:translateX(-50%);">42</div>
<div class="t" style="top:233.36px;font-size:5.4px;line-height:6.48px;height:6.48px;color:#484848;left:82.46px;transform:translateX(-50%);">42</div>
<div class="t" style="top:226.16px;font-size:5.4px;line-height:6.48px;height:6.48px;color:#484848;left:93.92px;transform:translateX(-50%);">43</div>
<div class="t" style="top:233.36px;font-size:5.4px;line-height:6.48px;height:6.48px;color:#484848;left:93.92px;transform:translateX(-50%);">43</div>
<div class="t" style="top:226.16px;font-size:5.4px;line-height:6.48px;height:6.48px;color:#484848;left:105.37px;transform:translateX(-50%);">44</div>
<div class="t" style="top:233.36px;font-size:5.4px;line-height:6.48px;height:6.48px;color:#484848;left:105.37px;transform:translateX(-50%);">44</div>
<div class="t" style="top:226.16px;font-size:5.4px;line-height:6.48px;height:6.48px;color:#484848;left:116.83px;transform:translateX(-50%);">45</div>
<div class="t" style="top:233.36px;font-size:5.4px;line-height:6.48px;height:6.48px;color:#484848;left:116.83px;transform:translateX(-50%);">45</div>
<div class="t" style="top:226.16px;font-size:5.4px;line-height:6.48px;height:6.48px;color:#484848;left:128.29px;transform:translateX(-50%);">46</div>
<div class="t" style="top:233.36px;font-size:5.4px;line-height:6.48px;height:6.48px;color:#484848;left:128.29px;transform:translateX(-50%);">46</div>
<div class="t" style="top:226.16px;font-size:5.4px;line-height:6.48px;height:6.48px;color:#484848;left:139.75px;transform:translateX(-50%);">47</div>
<div class="t" style="top:233.36px;font-size:5.4px;line-height:6.48px;height:6.48px;color:#484848;left:139.75px;transform:translateX(-50%);">47</div>
<div class="t" style="top:226.16px;font-size:5.4px;line-height:6.48px;height:6.48px;color:#484848;left:151.21px;transform:translateX(-50%);">48</div>
<div class="t" style="top:233.36px;font-size:5.4px;line-height:6.48px;height:6.48px;color:#484848;left:151.21px;transform:translateX(-50%);">48</div>
<div class="t" style="top:226.16px;font-size:5.4px;line-height:6.48px;height:6.48px;color:#484848;left:162.66px;transform:translateX(-50%);">49</div>
<div class="t" style="top:233.36px;font-size:5.4px;line-height:6.48px;height:6.48px;color:#484848;left:162.66px;transform:translateX(-50%);">49</div>
<div class="t" style="top:226.16px;font-size:5.4px;line-height:6.48px;height:6.48px;color:#484848;left:174.12px;transform:translateX(-50%);">50</div>
<div class="t" style="top:233.36px;font-size:5.4px;line-height:6.48px;height:6.48px;color:#484848;left:174.12px;transform:translateX(-50%);">50</div>
<div class="t" style="top:226.16px;font-size:5.4px;line-height:6.48px;height:6.48px;color:#484848;left:185.58px;transform:translateX(-50%);">51</div>
<div class="t" style="top:233.36px;font-size:5.4px;line-height:6.48px;height:6.48px;color:#484848;left:185.58px;transform:translateX(-50%);">51</div>
<div class="t" style="top:226.16px;font-size:5.4px;line-height:6.48px;height:6.48px;color:#484848;left:197.04px;transform:translateX(-50%);">52</div>
<div class="t" style="top:233.36px;font-size:5.4px;line-height:6.48px;height:6.48px;color:#484848;left:197.04px;transform:translateX(-50%);">52</div>
<div class="t" style="top:226.16px;font-size:5.4px;line-height:6.48px;height:6.48px;color:#484848;left:208.5px;transform:translateX(-50%);">53</div>
<div class="t" style="top:233.36px;font-size:5.4px;line-height:6.48px;height:6.48px;color:#484848;left:208.5px;transform:translateX(-50%);">53</div>
<div class="t" style="top:226.16px;font-size:5.4px;line-height:6.48px;height:6.48px;color:#484848;left:219.95px;transform:translateX(-50%);">54</div>
<div class="t" style="top:233.36px;font-size:5.4px;line-height:6.48px;height:6.48px;color:#484848;left:219.95px;transform:translateX(-50%);">54</div>
<div class="t" style="top:226.16px;font-size:5.4px;line-height:6.48px;height:6.48px;color:#484848;left:231.41px;transform:translateX(-50%);">55</div>
<div class="t" style="top:233.36px;font-size:5.4px;line-height:6.48px;height:6.48px;color:#484848;left:231.41px;transform:translateX(-50%);">55</div>
<div class="t" style="top:226.16px;font-size:5.4px;line-height:6.48px;height:6.48px;color:#484848;left:242.87px;transform:translateX(-50%);">56</div>
<div class="t" style="top:233.36px;font-size:5.4px;line-height:6.48px;height:6.48px;color:#484848;left:242.87px;transform:translateX(-50%);">56</div>
<div class="t" style="top:226.16px;font-size:5.4px;line-height:6.48px;height:6.48px;color:#484848;left:254.33px;transform:translateX(-50%);">57</div>
<div class="t" style="top:233.36px;font-size:5.4px;line-height:6.48px;height:6.48px;color:#484848;left:254.33px;transform:translateX(-50%);">57</div>
<div class="t" style="top:226.16px;font-size:5.4px;line-height:6.48px;height:6.48px;color:#484848;left:265.79px;transform:translateX(-50%);">58</div>
<div class="t" style="top:233.36px;font-size:5.4px;line-height:6.48px;height:6.48px;color:#484848;left:265.79px;transform:translateX(-50%);">58</div>
<div class="t" style="top:226.16px;font-size:5.4px;line-height:6.48px;height:6.48px;color:#484848;left:277.24px;transform:translateX(-50%);">59</div>
<div class="t" style="top:233.36px;font-size:5.4px;line-height:6.48px;height:6.48px;color:#484848;left:277.24px;transform:translateX(-50%);">59</div>
<div class="t" style="top:226.16px;font-size:5.4px;line-height:6.48px;height:6.48px;color:#484848;left:288.7px;transform:translateX(-50%);">60</div>
<div class="t" style="top:233.36px;font-size:5.4px;line-height:6.48px;height:6.48px;color:#484848;left:288.7px;transform:translateX(-50%);">60</div>
<div class="t" style="top:226.16px;font-size:5.4px;line-height:6.48px;height:6.48px;color:#484848;left:300.16px;transform:translateX(-50%);">61</div>
<div class="t" style="top:233.36px;font-size:5.4px;line-height:6.48px;height:6.48px;color:#484848;left:300.16px;transform:translateX(-50%);">61</div>
<div class="t" style="top:226.16px;font-size:5.4px;line-height:6.48px;height:6.48px;color:#484848;left:311.62px;transform:translateX(-50%);">62</div>
<div class="t" style="top:233.36px;font-size:5.4px;line-height:6.48px;height:6.48px;color:#484848;left:311.62px;transform:translateX(-50%);">62</div>
<div class="t" style="top:226.16px;font-size:5.4px;line-height:6.48px;height:6.48px;color:#484848;left:323.08px;transform:translateX(-50%);">63</div>
<div class="t" style="top:233.36px;font-size:5.4px;line-height:6.48px;height:6.48px;color:#484848;left:323.08px;transform:translateX(-50%);">63</div>
<div class="t" style="top:226.16px;font-size:5.4px;line-height:6.48px;height:6.48px;color:#484848;left:334.53px;transform:translateX(-50%);">64</div>
<div class="t" style="top:233.36px;font-size:5.4px;line-height:6.48px;height:6.48px;color:#484848;left:334.53px;transform:translateX(-50%);">64</div>
<div class="t" style="top:226.16px;font-size:5.4px;line-height:6.48px;height:6.48px;color:#484848;left:345.99px;transform:translateX(-50%);">65</div>
<div class="t" style="top:233.36px;font-size:5.4px;line-height:6.48px;height:6.48px;color:#484848;left:345.99px;transform:translateX(-50%);">65</div>
<div class="t" style="top:226.16px;font-size:5.4px;line-height:6.48px;height:6.48px;color:#484848;left:357.45px;transform:translateX(-50%);">66</div>
<div class="t" style="top:233.36px;font-size:5.4px;line-height:6.48px;height:6.48px;color:#484848;left:357.45px;transform:translateX(-50%);">66</div>
<div class="t" style="top:226.16px;font-size:5.4px;line-height:6.48px;height:6.48px;color:#484848;left:368.91px;transform:translateX(-50%);">67</div>
<div class="t" style="top:233.36px;font-size:5.4px;line-height:6.48px;height:6.48px;color:#484848;left:368.91px;transform:translateX(-50%);">67</div>
<div class="t" style="top:226.16px;font-size:5.4px;line-height:6.48px;height:6.48px;color:#484848;left:380.37px;transform:translateX(-50%);">68</div>
<div class="t" style="top:233.36px;font-size:5.4px;line-height:6.48px;height:6.48px;color:#484848;left:380.37px;transform:translateX(-50%);">68</div>
<div class="t" style="top:226.16px;font-size:5.4px;line-height:6.48px;height:6.48px;color:#484848;left:391.82px;transform:translateX(-50%);">69</div>
<div class="t" style="top:233.36px;font-size:5.4px;line-height:6.48px;height:6.48px;color:#484848;left:391.82px;transform:translateX(-50%);">69</div>
<div class="t" style="top:226.16px;font-size:5.4px;line-height:6.48px;height:6.48px;color:#484848;left:403.28px;transform:translateX(-50%);">70</div>
<div class="t" style="top:233.36px;font-size:5.4px;line-height:6.48px;height:6.48px;color:#484848;left:403.28px;transform:translateX(-50%);">70</div>
<div class="t" style="top:226.16px;font-size:5.4px;line-height:6.48px;height:6.48px;color:#484848;left:414.74px;transform:translateX(-50%);">71</div>
<div class="t" style="top:233.36px;font-size:5.4px;line-height:6.48px;height:6.48px;color:#484848;left:414.74px;transform:translateX(-50%);">71</div>
<div class="t" style="top:226.16px;font-size:5.4px;line-height:6.48px;height:6.48px;color:#484848;left:426.2px;transform:translateX(-50%);">72</div>
<div class="t" style="top:233.36px;font-size:5.4px;line-height:6.48px;height:6.48px;color:#484848;left:426.2px;transform:translateX(-50%);">72</div>
<div class="t" style="top:226.16px;font-size:5.4px;line-height:6.48px;height:6.48px;color:#484848;left:437.66px;transform:translateX(-50%);">73</div>
<div class="t" style="top:233.36px;font-size:5.4px;line-height:6.48px;height:6.48px;color:#484848;left:437.66px;transform:translateX(-50%);">73</div>
<div class="t" style="top:226.16px;font-size:5.4px;line-height:6.48px;height:6.48px;color:#484848;left:449.11px;transform:translateX(-50%);">74</div>
<div class="t" style="top:233.36px;font-size:5.4px;line-height:6.48px;height:6.48px;color:#484848;left:449.11px;transform:translateX(-50%);">74</div>
<div class="t" style="top:226.16px;font-size:5.4px;line-height:6.48px;height:6.48px;color:#484848;left:460.57px;transform:translateX(-50%);">75</div>
<div class="t" style="top:233.36px;font-size:5.4px;line-height:6.48px;height:6.48px;color:#484848;left:460.57px;transform:translateX(-50%);">75</div>
<div class="t" style="top:226.16px;font-size:5.4px;line-height:6.48px;height:6.48px;color:#484848;left:472.03px;transform:translateX(-50%);">76</div>
<div class="t" style="top:233.36px;font-size:5.4px;line-height:6.48px;height:6.48px;color:#484848;left:472.03px;transform:translateX(-50%);">76</div>
<div class="t" style="top:226.16px;font-size:5.4px;line-height:6.48px;height:6.48px;color:#484848;left:483.49px;transform:translateX(-50%);">77</div>
<div class="t" style="top:233.36px;font-size:5.4px;line-height:6.48px;height:6.48px;color:#484848;left:483.49px;transform:translateX(-50%);">77</div>
<div class="t" style="top:226.16px;font-size:5.4px;line-height:6.48px;height:6.48px;color:#484848;left:494.95px;transform:translateX(-50%);">78</div>
<div class="t" style="top:233.36px;font-size:5.4px;line-height:6.48px;height:6.48px;color:#484848;left:494.95px;transform:translateX(-50%);">78</div>
<div class="t" style="top:226.16px;font-size:5.4px;line-height:6.48px;height:6.48px;color:#484848;left:506.4px;transform:translateX(-50%);">79</div>
<div class="t" style="top:233.36px;font-size:5.4px;line-height:6.48px;height:6.48px;color:#484848;left:506.4px;transform:translateX(-50%);">79</div>
<div class="t" style="top:226.16px;font-size:5.4px;line-height:6.48px;height:6.48px;color:#484848;left:517.86px;transform:translateX(-50%);">80</div>
<div class="t" style="top:233.36px;font-size:5.4px;line-height:6.48px;height:6.48px;color:#484848;left:517.86px;transform:translateX(-50%);">80</div>
<div class="t" style="top:226.16px;font-size:5.4px;line-height:6.48px;height:6.48px;color:#484848;left:529.32px;transform:translateX(-50%);">81</div>
<div class="t" style="top:233.36px;font-size:5.4px;line-height:6.48px;height:6.48px;color:#484848;left:529.32px;transform:translateX(-50%);">81</div>
<div class="t" style="top:226.16px;font-size:5.4px;line-height:6.48px;height:6.48px;color:#484848;left:540.78px;transform:translateX(-50%);">82</div>
<div class="t" style="top:233.36px;font-size:5.4px;line-height:6.48px;height:6.48px;color:#484848;left:540.78px;transform:translateX(-50%);">82</div>
<div class="t" style="top:226.16px;font-size:5.4px;line-height:6.48px;height:6.48px;color:#484848;left:552.24px;transform:translateX(-50%);">83</div>
<div class="t" style="top:233.36px;font-size:5.4px;line-height:6.48px;height:6.48px;color:#484848;left:552.24px;transform:translateX(-50%);">83</div>
<div class="t" style="top:226.16px;font-size:5.4px;line-height:6.48px;height:6.48px;color:#484848;left:563.69px;transform:translateX(-50%);">84</div>
<div class="t" style="top:233.36px;font-size:5.4px;line-height:6.48px;height:6.48px;color:#484848;left:563.69px;transform:translateX(-50%);">84</div>
<div class="t" style="top:226.16px;font-size:5.4px;line-height:6.48px;height:6.48px;color:#484848;left:575.15px;transform:translateX(-50%);">85</div>
<div class="t" style="top:233.36px;font-size:5.4px;line-height:6.48px;height:6.48px;color:#484848;left:575.15px;transform:translateX(-50%);">85</div>
<div class="t" style="top:226.16px;font-size:5.4px;line-height:6.48px;height:6.48px;color:#484848;left:586.61px;transform:translateX(-50%);">86</div>
<div class="t" style="top:233.36px;font-size:5.4px;line-height:6.48px;height:6.48px;color:#484848;left:586.61px;transform:translateX(-50%);">86</div>
<div class="t" style="top:226.16px;font-size:5.4px;line-height:6.48px;height:6.48px;color:#484848;left:598.07px;transform:translateX(-50%);">87</div>
<div class="t" style="top:233.36px;font-size:5.4px;line-height:6.48px;height:6.48px;color:#484848;left:598.07px;transform:translateX(-50%);">87</div>
<div class="t" style="top:226.16px;font-size:5.4px;line-height:6.48px;height:6.48px;color:#484848;left:609.53px;transform:translateX(-50%);">88</div>
<div class="t" style="top:233.36px;font-size:5.4px;line-height:6.48px;height:6.48px;color:#484848;left:609.53px;transform:translateX(-50%);">88</div>
<div class="t" style="top:226.16px;font-size:5.4px;line-height:6.48px;height:6.48px;color:#484848;left:620.98px;transform:translateX(-50%);">89</div>
<div class="t" style="top:233.36px;font-size:5.4px;line-height:6.48px;height:6.48px;color:#484848;left:620.98px;transform:translateX(-50%);">89</div>
<div class="t" style="top:226.16px;font-size:5.4px;line-height:6.48px;height:6.48px;color:#484848;left:632.44px;transform:translateX(-50%);">90</div>
<div class="t" style="top:233.36px;font-size:5.4px;line-height:6.48px;height:6.48px;color:#484848;left:632.44px;transform:translateX(-50%);">90</div>
<div class="t" style="top:225.6px;font-size:6.5px;line-height:7.8px;height:7.8px;color:#595959;width:19.5px;text-align-last:justify;letter-spacing:-0.633px;left:644.4px;">世帯主</div>
<div class="t" style="top:233.8px;font-size:6.5px;line-height:7.8px;height:7.8px;color:#595959;width:19.5px;text-align-last:justify;letter-spacing:-0.633px;left:644.4px;">配偶者</div>
<div class="t" style="top:242.6px;font-size:6.5px;line-height:7.8px;height:7.8px;color:#595959;width:19.5px;text-align-last:justify;left:644.0px;">(年齢)</div>
<div class="t" style="top:242.58px;font-size:7.7px;line-height:9.24px;height:9.24px;color:#505050;width:40.3px;text-align-last:justify;-webkit-text-stroke:0.12px #505050;letter-spacing:-0.02px;left:103.5px;">世帯主年収</div>
<div class="t" style="top:242.58px;font-size:7.7px;line-height:9.24px;height:9.24px;color:#505050;width:40.4px;text-align-last:justify;-webkit-text-stroke:0.12px #505050;left:164.4px;">配偶者年収</div>
<div class="t" style="top:242.58px;font-size:7.7px;line-height:9.24px;height:9.24px;color:#505050;width:39.4px;text-align-last:justify;-webkit-text-stroke:0.12px #505050;letter-spacing:-0.2px;left:225.6px;">退職金合計</div>
<div class="t" style="top:242.58px;font-size:7.7px;line-height:9.24px;height:9.24px;color:#505050;width:47.4px;text-align-last:justify;-webkit-text-stroke:0.12px #505050;letter-spacing:-0.167px;left:286.6px;">公的年金合計</div>
<div class="t" style="top:242.58px;font-size:7.7px;line-height:9.24px;height:9.24px;color:#505050;width:69.1px;text-align-last:justify;-webkit-text-stroke:0.12px #505050;letter-spacing:-0.042px;left:355.3px;">保険金(生存給付金)</div>
<div class="t" style="top:242.58px;font-size:7.7px;line-height:9.24px;height:9.24px;color:#505050;width:31.2px;text-align-last:justify;-webkit-text-stroke:0.12px #505050;letter-spacing:-0.3px;left:445.8px;">定期収入</div>
<div class="t" style="top:242.58px;font-size:7.7px;line-height:9.24px;height:9.24px;color:#505050;width:31.5px;text-align-last:justify;-webkit-text-stroke:0.12px #505050;letter-spacing:-0.225px;left:498.3px;">臨時収入</div>
<div class="t" style="top:242.58px;font-size:7.7px;line-height:9.24px;height:9.24px;color:#505050;width:31.6px;text-align-last:justify;-webkit-text-stroke:0.12px #505050;letter-spacing:-0.2px;left:551.0px;">児童手当</div>
<div class="t" style="top:268.54px;font-size:6.6px;line-height:7.92px;height:7.92px;color:#404040;width:45.5px;text-align-last:justify;letter-spacing:-0.163px;left:45.1px;">支出合計(万円)</div>
<div class="t" style="top:267.66px;font-size:9.4px;line-height:11.28px;height:11.28px;color:#404040;width:90.8px;text-align-last:justify;left:268.7px;">支出の推移とその内訳</div>
<div class="t" style="top:271.96px;font-size:6.9px;line-height:8.28px;height:8.28px;color:#111;width:262.5px;text-align-last:justify;letter-spacing:-0.607px;left:381.1px;">将来に、どのような支出に、どれくらいかかるのか、今のうちに把握をしておきましょう。</div>
<div class="t" style="top:419.84px;font-size:6.6px;line-height:7.92px;height:7.92px;color:#4d4d4d;right:644.4px;">0</div>
<div class="t" style="top:402.19px;font-size:6.6px;line-height:7.92px;height:7.92px;color:#4d4d4d;right:644.4px;">100</div>
<div class="t" style="top:384.54px;font-size:6.6px;line-height:7.92px;height:7.92px;color:#4d4d4d;right:644.4px;">200</div>
<div class="t" style="top:366.89px;font-size:6.6px;line-height:7.92px;height:7.92px;color:#4d4d4d;right:644.4px;">300</div>
<div class="t" style="top:349.24px;font-size:6.6px;line-height:7.92px;height:7.92px;color:#4d4d4d;right:644.4px;">400</div>
<div class="t" style="top:331.59px;font-size:6.6px;line-height:7.92px;height:7.92px;color:#4d4d4d;right:644.4px;">500</div>
<div class="t" style="top:313.94px;font-size:6.6px;line-height:7.92px;height:7.92px;color:#4d4d4d;right:644.4px;">600</div>
<div class="t" style="top:296.29px;font-size:6.6px;line-height:7.92px;height:7.92px;color:#4d4d4d;right:644.4px;">700</div>
<div class="t" style="top:278.64px;font-size:6.6px;line-height:7.92px;height:7.92px;color:#4d4d4d;right:644.4px;">800</div>
<div class="t" style="top:429.26px;font-size:5.4px;line-height:6.48px;height:6.48px;color:#484848;left:71.3px;transform:translateX(-50%);">41</div>
<div class="t" style="top:436.46px;font-size:5.4px;line-height:6.48px;height:6.48px;color:#484848;left:71.3px;transform:translateX(-50%);">41</div>
<div class="t" style="top:429.26px;font-size:5.4px;line-height:6.48px;height:6.48px;color:#484848;left:82.76px;transform:translateX(-50%);">42</div>
<div class="t" style="top:436.46px;font-size:5.4px;line-height:6.48px;height:6.48px;color:#484848;left:82.76px;transform:translateX(-50%);">42</div>
<div class="t" style="top:429.26px;font-size:5.4px;line-height:6.48px;height:6.48px;color:#484848;left:94.22px;transform:translateX(-50%);">43</div>
<div class="t" style="top:436.46px;font-size:5.4px;line-height:6.48px;height:6.48px;color:#484848;left:94.22px;transform:translateX(-50%);">43</div>
<div class="t" style="top:429.26px;font-size:5.4px;line-height:6.48px;height:6.48px;color:#484848;left:105.67px;transform:translateX(-50%);">44</div>
<div class="t" style="top:436.46px;font-size:5.4px;line-height:6.48px;height:6.48px;color:#484848;left:105.67px;transform:translateX(-50%);">44</div>
<div class="t" style="top:429.26px;font-size:5.4px;line-height:6.48px;height:6.48px;color:#484848;left:117.13px;transform:translateX(-50%);">45</div>
<div class="t" style="top:436.46px;font-size:5.4px;line-height:6.48px;height:6.48px;color:#484848;left:117.13px;transform:translateX(-50%);">45</div>
<div class="t" style="top:429.26px;font-size:5.4px;line-height:6.48px;height:6.48px;color:#484848;left:128.59px;transform:translateX(-50%);">46</div>
<div class="t" style="top:436.46px;font-size:5.4px;line-height:6.48px;height:6.48px;color:#484848;left:128.59px;transform:translateX(-50%);">46</div>
<div class="t" style="top:429.26px;font-size:5.4px;line-height:6.48px;height:6.48px;color:#484848;left:140.05px;transform:translateX(-50%);">47</div>
<div class="t" style="top:436.46px;font-size:5.4px;line-height:6.48px;height:6.48px;color:#484848;left:140.05px;transform:translateX(-50%);">47</div>
<div class="t" style="top:429.26px;font-size:5.4px;line-height:6.48px;height:6.48px;color:#484848;left:151.51px;transform:translateX(-50%);">48</div>
<div class="t" style="top:436.46px;font-size:5.4px;line-height:6.48px;height:6.48px;color:#484848;left:151.51px;transform:translateX(-50%);">48</div>
<div class="t" style="top:429.26px;font-size:5.4px;line-height:6.48px;height:6.48px;color:#484848;left:162.96px;transform:translateX(-50%);">49</div>
<div class="t" style="top:436.46px;font-size:5.4px;line-height:6.48px;height:6.48px;color:#484848;left:162.96px;transform:translateX(-50%);">49</div>
<div class="t" style="top:429.26px;font-size:5.4px;line-height:6.48px;height:6.48px;color:#484848;left:174.42px;transform:translateX(-50%);">50</div>
<div class="t" style="top:436.46px;font-size:5.4px;line-height:6.48px;height:6.48px;color:#484848;left:174.42px;transform:translateX(-50%);">50</div>
<div class="t" style="top:429.26px;font-size:5.4px;line-height:6.48px;height:6.48px;color:#484848;left:185.88px;transform:translateX(-50%);">51</div>
<div class="t" style="top:436.46px;font-size:5.4px;line-height:6.48px;height:6.48px;color:#484848;left:185.88px;transform:translateX(-50%);">51</div>
<div class="t" style="top:429.26px;font-size:5.4px;line-height:6.48px;height:6.48px;color:#484848;left:197.34px;transform:translateX(-50%);">52</div>
<div class="t" style="top:436.46px;font-size:5.4px;line-height:6.48px;height:6.48px;color:#484848;left:197.34px;transform:translateX(-50%);">52</div>
<div class="t" style="top:429.26px;font-size:5.4px;line-height:6.48px;height:6.48px;color:#484848;left:208.8px;transform:translateX(-50%);">53</div>
<div class="t" style="top:436.46px;font-size:5.4px;line-height:6.48px;height:6.48px;color:#484848;left:208.8px;transform:translateX(-50%);">53</div>
<div class="t" style="top:429.26px;font-size:5.4px;line-height:6.48px;height:6.48px;color:#484848;left:220.25px;transform:translateX(-50%);">54</div>
<div class="t" style="top:436.46px;font-size:5.4px;line-height:6.48px;height:6.48px;color:#484848;left:220.25px;transform:translateX(-50%);">54</div>
<div class="t" style="top:429.26px;font-size:5.4px;line-height:6.48px;height:6.48px;color:#484848;left:231.71px;transform:translateX(-50%);">55</div>
<div class="t" style="top:436.46px;font-size:5.4px;line-height:6.48px;height:6.48px;color:#484848;left:231.71px;transform:translateX(-50%);">55</div>
<div class="t" style="top:429.26px;font-size:5.4px;line-height:6.48px;height:6.48px;color:#484848;left:243.17px;transform:translateX(-50%);">56</div>
<div class="t" style="top:436.46px;font-size:5.4px;line-height:6.48px;height:6.48px;color:#484848;left:243.17px;transform:translateX(-50%);">56</div>
<div class="t" style="top:429.26px;font-size:5.4px;line-height:6.48px;height:6.48px;color:#484848;left:254.63px;transform:translateX(-50%);">57</div>
<div class="t" style="top:436.46px;font-size:5.4px;line-height:6.48px;height:6.48px;color:#484848;left:254.63px;transform:translateX(-50%);">57</div>
<div class="t" style="top:429.26px;font-size:5.4px;line-height:6.48px;height:6.48px;color:#484848;left:266.09px;transform:translateX(-50%);">58</div>
<div class="t" style="top:436.46px;font-size:5.4px;line-height:6.48px;height:6.48px;color:#484848;left:266.09px;transform:translateX(-50%);">58</div>
<div class="t" style="top:429.26px;font-size:5.4px;line-height:6.48px;height:6.48px;color:#484848;left:277.54px;transform:translateX(-50%);">59</div>
<div class="t" style="top:436.46px;font-size:5.4px;line-height:6.48px;height:6.48px;color:#484848;left:277.54px;transform:translateX(-50%);">59</div>
<div class="t" style="top:429.26px;font-size:5.4px;line-height:6.48px;height:6.48px;color:#484848;left:289.0px;transform:translateX(-50%);">60</div>
<div class="t" style="top:436.46px;font-size:5.4px;line-height:6.48px;height:6.48px;color:#484848;left:289.0px;transform:translateX(-50%);">60</div>
<div class="t" style="top:429.26px;font-size:5.4px;line-height:6.48px;height:6.48px;color:#484848;left:300.46px;transform:translateX(-50%);">61</div>
<div class="t" style="top:436.46px;font-size:5.4px;line-height:6.48px;height:6.48px;color:#484848;left:300.46px;transform:translateX(-50%);">61</div>
<div class="t" style="top:429.26px;font-size:5.4px;line-height:6.48px;height:6.48px;color:#484848;left:311.92px;transform:translateX(-50%);">62</div>
<div class="t" style="top:436.46px;font-size:5.4px;line-height:6.48px;height:6.48px;color:#484848;left:311.92px;transform:translateX(-50%);">62</div>
<div class="t" style="top:429.26px;font-size:5.4px;line-height:6.48px;height:6.48px;color:#484848;left:323.38px;transform:translateX(-50%);">63</div>
<div class="t" style="top:436.46px;font-size:5.4px;line-height:6.48px;height:6.48px;color:#484848;left:323.38px;transform:translateX(-50%);">63</div>
<div class="t" style="top:429.26px;font-size:5.4px;line-height:6.48px;height:6.48px;color:#484848;left:334.83px;transform:translateX(-50%);">64</div>
<div class="t" style="top:436.46px;font-size:5.4px;line-height:6.48px;height:6.48px;color:#484848;left:334.83px;transform:translateX(-50%);">64</div>
<div class="t" style="top:429.26px;font-size:5.4px;line-height:6.48px;height:6.48px;color:#484848;left:346.29px;transform:translateX(-50%);">65</div>
<div class="t" style="top:436.46px;font-size:5.4px;line-height:6.48px;height:6.48px;color:#484848;left:346.29px;transform:translateX(-50%);">65</div>
<div class="t" style="top:429.26px;font-size:5.4px;line-height:6.48px;height:6.48px;color:#484848;left:357.75px;transform:translateX(-50%);">66</div>
<div class="t" style="top:436.46px;font-size:5.4px;line-height:6.48px;height:6.48px;color:#484848;left:357.75px;transform:translateX(-50%);">66</div>
<div class="t" style="top:429.26px;font-size:5.4px;line-height:6.48px;height:6.48px;color:#484848;left:369.21px;transform:translateX(-50%);">67</div>
<div class="t" style="top:436.46px;font-size:5.4px;line-height:6.48px;height:6.48px;color:#484848;left:369.21px;transform:translateX(-50%);">67</div>
<div class="t" style="top:429.26px;font-size:5.4px;line-height:6.48px;height:6.48px;color:#484848;left:380.67px;transform:translateX(-50%);">68</div>
<div class="t" style="top:436.46px;font-size:5.4px;line-height:6.48px;height:6.48px;color:#484848;left:380.67px;transform:translateX(-50%);">68</div>
<div class="t" style="top:429.26px;font-size:5.4px;line-height:6.48px;height:6.48px;color:#484848;left:392.12px;transform:translateX(-50%);">69</div>
<div class="t" style="top:436.46px;font-size:5.4px;line-height:6.48px;height:6.48px;color:#484848;left:392.12px;transform:translateX(-50%);">69</div>
<div class="t" style="top:429.26px;font-size:5.4px;line-height:6.48px;height:6.48px;color:#484848;left:403.58px;transform:translateX(-50%);">70</div>
<div class="t" style="top:436.46px;font-size:5.4px;line-height:6.48px;height:6.48px;color:#484848;left:403.58px;transform:translateX(-50%);">70</div>
<div class="t" style="top:429.26px;font-size:5.4px;line-height:6.48px;height:6.48px;color:#484848;left:415.04px;transform:translateX(-50%);">71</div>
<div class="t" style="top:436.46px;font-size:5.4px;line-height:6.48px;height:6.48px;color:#484848;left:415.04px;transform:translateX(-50%);">71</div>
<div class="t" style="top:429.26px;font-size:5.4px;line-height:6.48px;height:6.48px;color:#484848;left:426.5px;transform:translateX(-50%);">72</div>
<div class="t" style="top:436.46px;font-size:5.4px;line-height:6.48px;height:6.48px;color:#484848;left:426.5px;transform:translateX(-50%);">72</div>
<div class="t" style="top:429.26px;font-size:5.4px;line-height:6.48px;height:6.48px;color:#484848;left:437.96px;transform:translateX(-50%);">73</div>
<div class="t" style="top:436.46px;font-size:5.4px;line-height:6.48px;height:6.48px;color:#484848;left:437.96px;transform:translateX(-50%);">73</div>
<div class="t" style="top:429.26px;font-size:5.4px;line-height:6.48px;height:6.48px;color:#484848;left:449.41px;transform:translateX(-50%);">74</div>
<div class="t" style="top:436.46px;font-size:5.4px;line-height:6.48px;height:6.48px;color:#484848;left:449.41px;transform:translateX(-50%);">74</div>
<div class="t" style="top:429.26px;font-size:5.4px;line-height:6.48px;height:6.48px;color:#484848;left:460.87px;transform:translateX(-50%);">75</div>
<div class="t" style="top:436.46px;font-size:5.4px;line-height:6.48px;height:6.48px;color:#484848;left:460.87px;transform:translateX(-50%);">75</div>
<div class="t" style="top:429.26px;font-size:5.4px;line-height:6.48px;height:6.48px;color:#484848;left:472.33px;transform:translateX(-50%);">76</div>
<div class="t" style="top:436.46px;font-size:5.4px;line-height:6.48px;height:6.48px;color:#484848;left:472.33px;transform:translateX(-50%);">76</div>
<div class="t" style="top:429.26px;font-size:5.4px;line-height:6.48px;height:6.48px;color:#484848;left:483.79px;transform:translateX(-50%);">77</div>
<div class="t" style="top:436.46px;font-size:5.4px;line-height:6.48px;height:6.48px;color:#484848;left:483.79px;transform:translateX(-50%);">77</div>
<div class="t" style="top:429.26px;font-size:5.4px;line-height:6.48px;height:6.48px;color:#484848;left:495.25px;transform:translateX(-50%);">78</div>
<div class="t" style="top:436.46px;font-size:5.4px;line-height:6.48px;height:6.48px;color:#484848;left:495.25px;transform:translateX(-50%);">78</div>
<div class="t" style="top:429.26px;font-size:5.4px;line-height:6.48px;height:6.48px;color:#484848;left:506.7px;transform:translateX(-50%);">79</div>
<div class="t" style="top:436.46px;font-size:5.4px;line-height:6.48px;height:6.48px;color:#484848;left:506.7px;transform:translateX(-50%);">79</div>
<div class="t" style="top:429.26px;font-size:5.4px;line-height:6.48px;height:6.48px;color:#484848;left:518.16px;transform:translateX(-50%);">80</div>
<div class="t" style="top:436.46px;font-size:5.4px;line-height:6.48px;height:6.48px;color:#484848;left:518.16px;transform:translateX(-50%);">80</div>
<div class="t" style="top:429.26px;font-size:5.4px;line-height:6.48px;height:6.48px;color:#484848;left:529.62px;transform:translateX(-50%);">81</div>
<div class="t" style="top:436.46px;font-size:5.4px;line-height:6.48px;height:6.48px;color:#484848;left:529.62px;transform:translateX(-50%);">81</div>
<div class="t" style="top:429.26px;font-size:5.4px;line-height:6.48px;height:6.48px;color:#484848;left:541.08px;transform:translateX(-50%);">82</div>
<div class="t" style="top:436.46px;font-size:5.4px;line-height:6.48px;height:6.48px;color:#484848;left:541.08px;transform:translateX(-50%);">82</div>
<div class="t" style="top:429.26px;font-size:5.4px;line-height:6.48px;height:6.48px;color:#484848;left:552.54px;transform:translateX(-50%);">83</div>
<div class="t" style="top:436.46px;font-size:5.4px;line-height:6.48px;height:6.48px;color:#484848;left:552.54px;transform:translateX(-50%);">83</div>
<div class="t" style="top:429.26px;font-size:5.4px;line-height:6.48px;height:6.48px;color:#484848;left:563.99px;transform:translateX(-50%);">84</div>
<div class="t" style="top:436.46px;font-size:5.4px;line-height:6.48px;height:6.48px;color:#484848;left:563.99px;transform:translateX(-50%);">84</div>
<div class="t" style="top:429.26px;font-size:5.4px;line-height:6.48px;height:6.48px;color:#484848;left:575.45px;transform:translateX(-50%);">85</div>
<div class="t" style="top:436.46px;font-size:5.4px;line-height:6.48px;height:6.48px;color:#484848;left:575.45px;transform:translateX(-50%);">85</div>
<div class="t" style="top:429.26px;font-size:5.4px;line-height:6.48px;height:6.48px;color:#484848;left:586.91px;transform:translateX(-50%);">86</div>
<div class="t" style="top:436.46px;font-size:5.4px;line-height:6.48px;height:6.48px;color:#484848;left:586.91px;transform:translateX(-50%);">86</div>
<div class="t" style="top:429.26px;font-size:5.4px;line-height:6.48px;height:6.48px;color:#484848;left:598.37px;transform:translateX(-50%);">87</div>
<div class="t" style="top:436.46px;font-size:5.4px;line-height:6.48px;height:6.48px;color:#484848;left:598.37px;transform:translateX(-50%);">87</div>
<div class="t" style="top:429.26px;font-size:5.4px;line-height:6.48px;height:6.48px;color:#484848;left:609.83px;transform:translateX(-50%);">88</div>
<div class="t" style="top:436.46px;font-size:5.4px;line-height:6.48px;height:6.48px;color:#484848;left:609.83px;transform:translateX(-50%);">88</div>
<div class="t" style="top:429.26px;font-size:5.4px;line-height:6.48px;height:6.48px;color:#484848;left:621.28px;transform:translateX(-50%);">89</div>
<div class="t" style="top:436.46px;font-size:5.4px;line-height:6.48px;height:6.48px;color:#484848;left:621.28px;transform:translateX(-50%);">89</div>
<div class="t" style="top:429.26px;font-size:5.4px;line-height:6.48px;height:6.48px;color:#484848;left:632.74px;transform:translateX(-50%);">90</div>
<div class="t" style="top:436.46px;font-size:5.4px;line-height:6.48px;height:6.48px;color:#484848;left:632.74px;transform:translateX(-50%);">90</div>
<div class="t" style="top:427.6px;font-size:6.5px;line-height:7.8px;height:7.8px;color:#595959;width:19.4px;text-align-last:justify;letter-spacing:-0.667px;left:642.4px;">世帯主</div>
<div class="t" style="top:435.7px;font-size:6.5px;line-height:7.8px;height:7.8px;color:#595959;width:19.4px;text-align-last:justify;letter-spacing:-0.667px;left:642.4px;">配偶者</div>
<div class="t" style="top:444.7px;font-size:6.5px;line-height:7.8px;height:7.8px;color:#595959;width:19.4px;text-align-last:justify;left:642.0px;">(年齢)</div>
<div class="t" style="top:446.08px;font-size:7.7px;line-height:9.24px;height:9.24px;color:#505050;width:39.7px;text-align-last:justify;-webkit-text-stroke:0.12px #505050;letter-spacing:-0.14px;left:134.3px;">日常生活費</div>
<div class="t" style="top:446.08px;font-size:7.7px;line-height:9.24px;height:9.24px;color:#505050;width:22.6px;text-align-last:justify;-webkit-text-stroke:0.12px #505050;letter-spacing:-0.6px;left:208.7px;">保険料</div>
<div class="t" style="top:446.08px;font-size:7.7px;line-height:9.24px;height:9.24px;color:#505050;width:22.6px;text-align-last:justify;-webkit-text-stroke:0.12px #505050;letter-spacing:-0.6px;left:266.5px;">教育費</div>
<div class="t" style="top:446.08px;font-size:7.7px;line-height:9.24px;height:9.24px;color:#505050;width:36.2px;text-align-last:justify;-webkit-text-stroke:0.12px #505050;letter-spacing:-0.84px;left:323.5px;">社保・税金</div>
<div class="t" style="top:446.08px;font-size:7.7px;line-height:9.24px;height:9.24px;color:#505050;width:22.7px;text-align-last:justify;-webkit-text-stroke:0.12px #505050;letter-spacing:-0.567px;left:394.0px;">住宅費</div>
<div class="t" style="top:446.08px;font-size:7.7px;line-height:9.24px;height:9.24px;color:#505050;width:31.7px;text-align-last:justify;-webkit-text-stroke:0.12px #505050;letter-spacing:-0.175px;left:451.6px;">定期支出</div>
<div class="t" style="top:446.08px;font-size:7.7px;line-height:9.24px;height:9.24px;color:#505050;width:31.7px;text-align-last:justify;-webkit-text-stroke:0.12px #505050;letter-spacing:-0.175px;left:517.0px;">臨時支出</div>
</div>
</body>
</html>
